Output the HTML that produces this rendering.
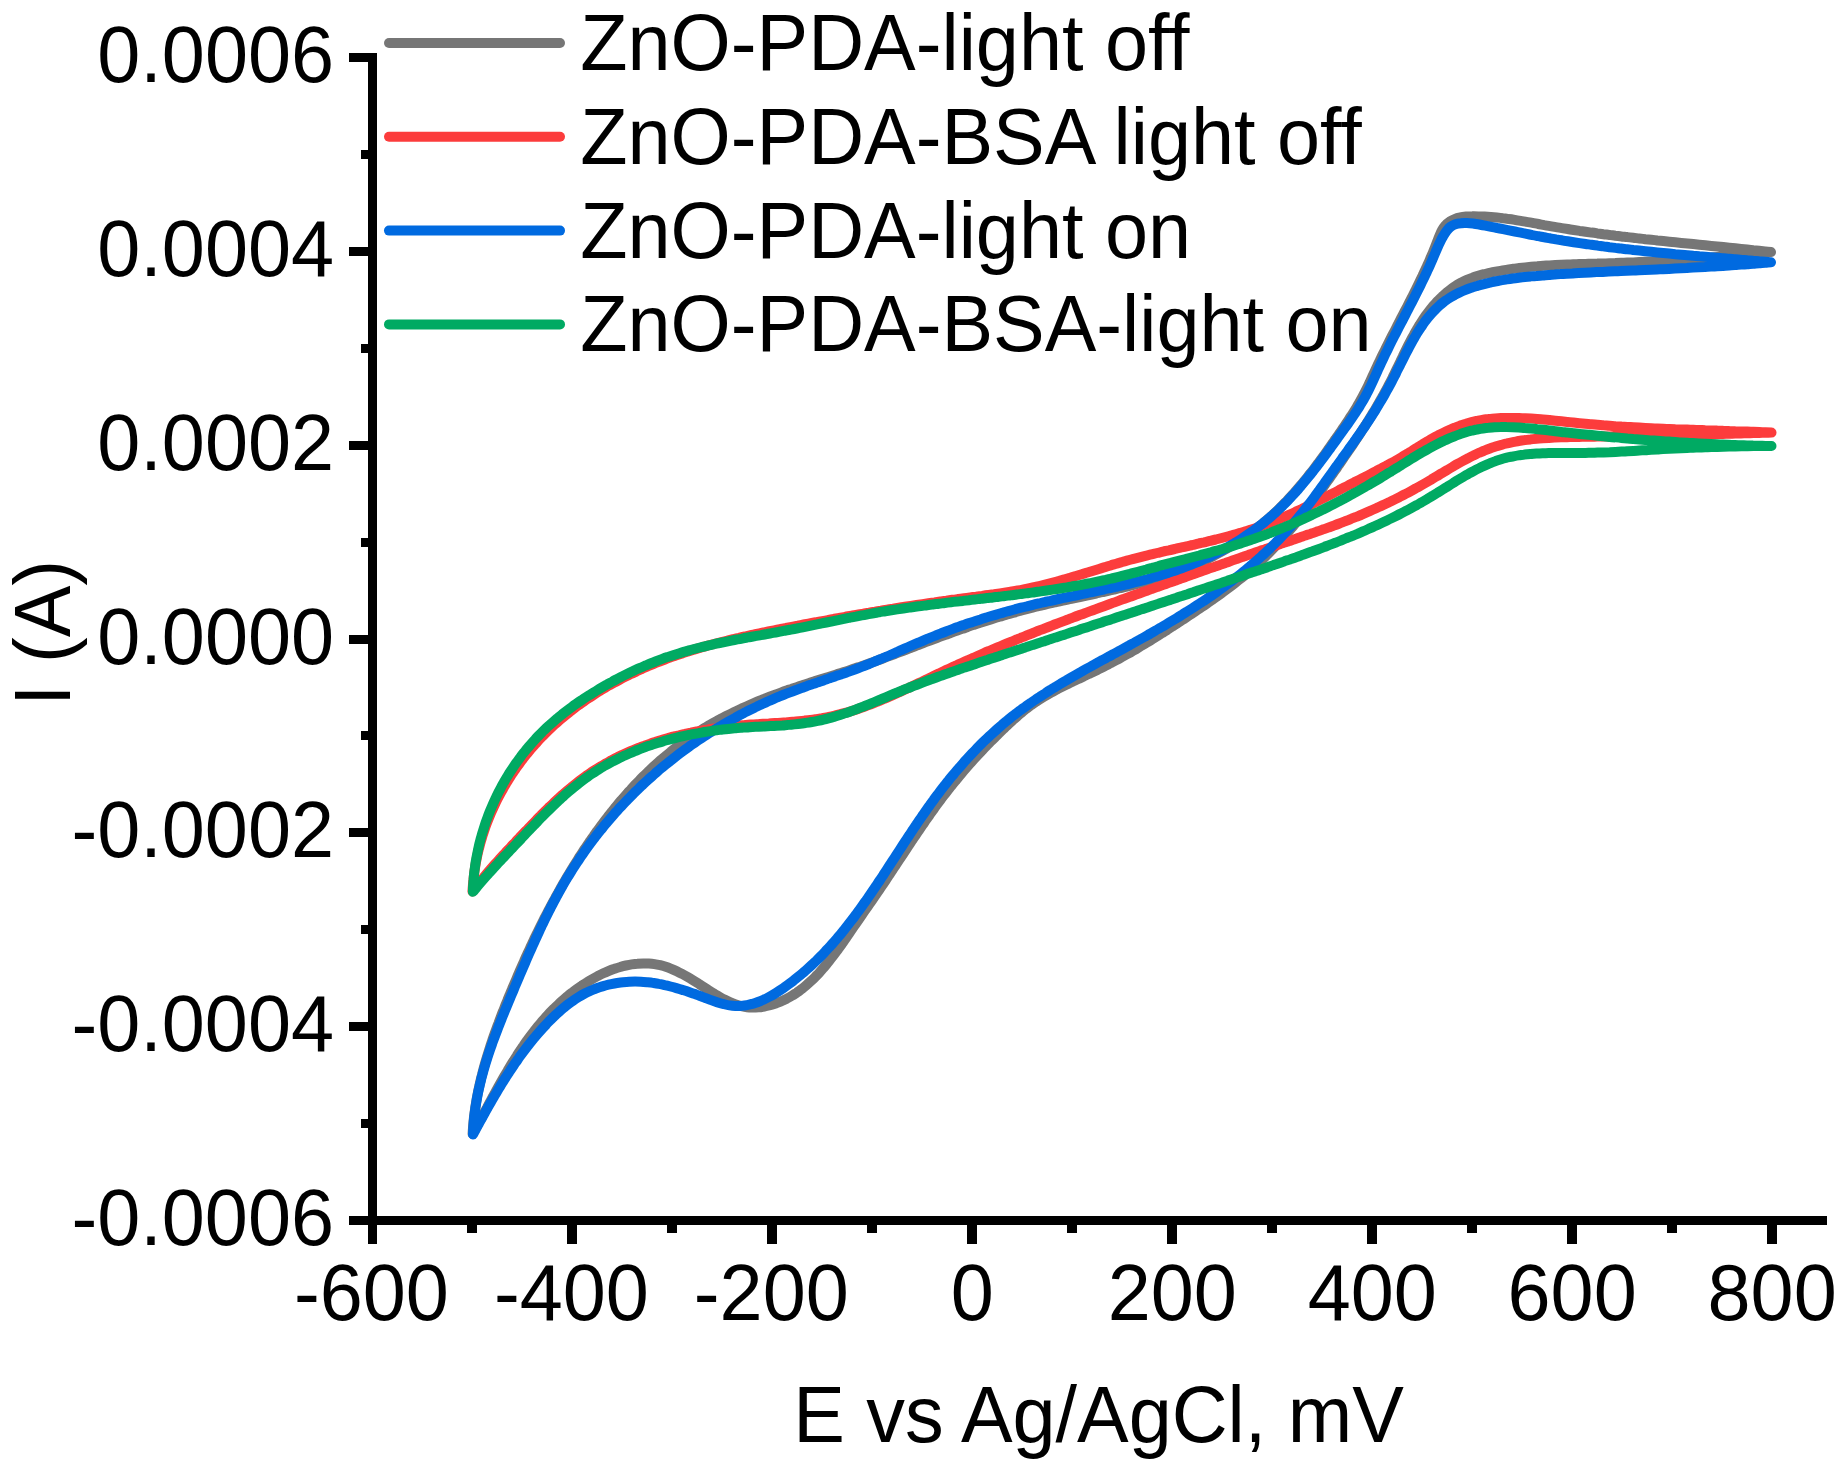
<!DOCTYPE html>
<html lang="en"><head><meta charset="utf-8"><title>Cyclic voltammograms: ZnO-PDA and ZnO-PDA-BSA, light on/off</title>
<style>html,body{margin:0;padding:0;background:#fff}body{width:1846px;height:1468px;overflow:hidden}</style>
</head><body>
<svg width="1846" height="1468" viewBox="0 0 1846 1468" style="display:block">
<rect width="1846" height="1468" fill="#fff"/>
<g fill="#000" shape-rendering="crispEdges">
<rect x="368" y="53" width="9" height="1191"/>
<rect x="349" y="1216" width="1478" height="9"/>
<rect x="349" y="1216" width="20" height="9"/>
<rect x="349" y="1022" width="20" height="9"/>
<rect x="349" y="828" width="20" height="9"/>
<rect x="349" y="635" width="20" height="9"/>
<rect x="349" y="441" width="20" height="9"/>
<rect x="349" y="247" width="20" height="9"/>
<rect x="349" y="53" width="20" height="9"/>
<rect x="361" y="1119" width="8" height="9"/>
<rect x="361" y="925" width="8" height="9"/>
<rect x="361" y="731" width="8" height="9"/>
<rect x="361" y="538" width="8" height="9"/>
<rect x="361" y="344" width="8" height="9"/>
<rect x="361" y="150" width="8" height="9"/>
<rect x="567" y="1224" width="9.5" height="20"/>
<rect x="767" y="1224" width="9.5" height="20"/>
<rect x="967" y="1224" width="9.5" height="20"/>
<rect x="1167" y="1224" width="9.5" height="20"/>
<rect x="1367" y="1224" width="9.5" height="20"/>
<rect x="1567" y="1224" width="9.5" height="20"/>
<rect x="1767" y="1224" width="9.5" height="20"/>
<rect x="467" y="1224" width="9.5" height="9"/>
<rect x="667" y="1224" width="9.5" height="9"/>
<rect x="867" y="1224" width="9.5" height="9"/>
<rect x="1067" y="1224" width="9.5" height="9"/>
<rect x="1267" y="1224" width="9.5" height="9"/>
<rect x="1467" y="1224" width="9.5" height="9"/>
<rect x="1667" y="1224" width="9.5" height="9"/>
</g>
<g fill="none" stroke-width="10.0" stroke-linejoin="round" stroke-linecap="round">
<path stroke="#767676" d="M1771.0 252.1C1769.0 251.9 1767.0 251.7 1765.1 251.4C1763.1 251.2 1761.1 251.0 1759.1 250.8C1757.1 250.6 1755.2 250.4 1753.2 250.2C1751.2 249.9 1749.2 249.7 1747.2 249.5C1745.2 249.3 1743.2 249.1 1741.2 248.9C1739.3 248.7 1737.3 248.5 1735.3 248.3C1733.3 248.1 1731.3 247.9 1729.3 247.7C1727.3 247.5 1725.3 247.3 1723.3 247.1C1721.3 246.9 1719.3 246.7 1717.3 246.5C1715.3 246.3 1713.3 246.1 1711.3 245.9C1709.3 245.7 1707.3 245.5 1705.3 245.3C1703.3 245.1 1701.3 244.9 1699.3 244.7C1697.3 244.5 1695.3 244.3 1693.3 244.1C1691.3 243.9 1689.3 243.7 1687.3 243.5C1685.3 243.3 1683.3 243.1 1681.3 242.9C1679.3 242.7 1677.3 242.5 1675.3 242.3C1673.3 242.1 1671.3 241.9 1669.3 241.7C1667.3 241.5 1665.3 241.3 1663.3 241.1C1661.3 240.9 1659.3 240.7 1657.3 240.5C1655.3 240.2 1653.3 240.0 1651.3 239.8C1649.3 239.6 1647.3 239.4 1645.3 239.2C1643.3 238.9 1641.3 238.7 1639.3 238.5C1637.3 238.3 1635.3 238.0 1633.3 237.8C1631.3 237.6 1629.3 237.4 1627.3 237.1C1625.3 236.9 1623.3 236.6 1621.3 236.4C1619.3 236.2 1617.3 235.9 1615.4 235.7C1613.4 235.4 1611.4 235.2 1609.4 234.9C1607.4 234.7 1605.4 234.4 1603.4 234.2C1601.4 233.9 1599.4 233.6 1597.4 233.4C1595.5 233.1 1593.5 232.8 1591.5 232.6C1589.5 232.3 1587.5 232.0 1585.5 231.7C1583.6 231.4 1581.6 231.1 1579.6 230.9C1577.6 230.6 1575.6 230.3 1573.7 230.0C1571.7 229.7 1569.7 229.4 1567.8 229.0C1565.8 228.7 1563.8 228.4 1561.8 228.1C1559.9 227.8 1557.9 227.4 1555.9 227.1C1554.0 226.8 1552.0 226.4 1550.1 226.1C1548.1 225.8 1546.1 225.4 1544.2 225.1C1542.2 224.7 1540.3 224.4 1538.3 224.0C1536.3 223.6 1534.4 223.3 1532.4 222.9C1530.5 222.6 1528.5 222.2 1526.5 221.9C1524.6 221.6 1522.6 221.2 1520.7 220.9C1518.7 220.6 1516.7 220.3 1514.7 219.9C1512.8 219.6 1510.8 219.3 1508.8 219.1C1506.8 218.8 1504.8 218.5 1502.8 218.3C1500.8 218.0 1498.8 217.8 1496.8 217.6C1494.8 217.4 1492.8 217.2 1490.8 217.0C1488.7 216.9 1486.7 216.7 1484.6 216.6C1482.6 216.5 1480.5 216.4 1478.5 216.4C1476.4 216.3 1474.3 216.2 1472.3 216.3C1470.2 216.3 1468.2 216.4 1466.1 216.6C1464.1 216.8 1462.1 217.0 1460.2 217.4C1458.3 217.8 1456.4 218.3 1454.7 219.0C1452.9 219.7 1451.2 220.5 1449.7 221.6C1448.2 222.6 1446.7 223.9 1445.4 225.3C1444.1 226.8 1443.0 228.5 1442.0 230.3C1441.0 232.1 1440.2 234.1 1439.4 236.0C1438.6 237.9 1437.9 239.9 1437.1 241.8C1436.4 243.7 1435.7 245.6 1434.9 247.5C1434.2 249.3 1433.4 251.2 1432.7 253.0C1431.9 254.8 1431.1 256.6 1430.3 258.4C1429.6 260.3 1428.8 262.1 1428.0 263.9C1427.2 265.7 1426.3 267.5 1425.5 269.3C1424.7 271.1 1423.8 272.9 1423.0 274.7C1422.1 276.5 1421.3 278.3 1420.4 280.1C1419.6 281.9 1418.7 283.7 1417.8 285.5C1416.9 287.3 1416.0 289.1 1415.2 290.8C1414.3 292.6 1413.4 294.4 1412.5 296.2C1411.6 298.0 1410.6 299.8 1409.7 301.6C1408.8 303.4 1407.9 305.1 1407.0 306.9C1406.1 308.7 1405.1 310.5 1404.2 312.3C1403.3 314.1 1402.4 315.9 1401.4 317.6C1400.5 319.4 1399.6 321.2 1398.7 323.0C1397.7 324.8 1396.8 326.6 1395.9 328.4C1395.0 330.2 1394.1 332.0 1393.1 333.7C1392.2 335.5 1391.3 337.3 1390.4 339.1C1389.5 340.9 1388.6 342.7 1387.7 344.5C1386.8 346.3 1385.9 348.1 1385.0 349.9C1384.1 351.7 1383.2 353.5 1382.3 355.3C1381.4 357.1 1380.6 358.9 1379.7 360.8C1378.8 362.6 1378.0 364.4 1377.1 366.2C1376.3 368.0 1375.4 369.8 1374.6 371.7C1373.8 373.5 1372.9 375.3 1372.1 377.1C1371.3 378.9 1370.4 380.8 1369.6 382.6C1368.7 384.4 1367.9 386.2 1367.0 388.0C1366.1 389.8 1365.2 391.6 1364.3 393.3C1363.4 395.1 1362.5 396.9 1361.5 398.6C1360.6 400.4 1359.6 402.1 1358.6 403.8C1357.6 405.6 1356.5 407.3 1355.5 409.0C1354.5 410.7 1353.4 412.4 1352.3 414.1C1351.2 415.8 1350.1 417.4 1349.0 419.1C1347.9 420.8 1346.8 422.5 1345.7 424.1C1344.6 425.8 1343.5 427.5 1342.3 429.1C1341.2 430.8 1340.1 432.4 1338.9 434.1C1337.8 435.8 1336.6 437.4 1335.5 439.1C1334.3 440.7 1333.2 442.4 1332.0 444.0C1330.9 445.7 1329.7 447.3 1328.6 448.9C1327.4 450.6 1326.2 452.2 1325.1 453.9C1323.9 455.5 1322.7 457.1 1321.5 458.7C1320.3 460.3 1319.1 462.0 1317.9 463.6C1316.7 465.2 1315.5 466.8 1314.3 468.4C1313.1 470.0 1311.9 471.5 1310.6 473.1C1309.4 474.7 1308.1 476.3 1306.9 477.8C1305.6 479.4 1304.4 480.9 1303.1 482.5C1301.8 484.0 1300.5 485.6 1299.2 487.1C1297.9 488.6 1296.6 490.1 1295.3 491.6C1294.0 493.1 1292.6 494.6 1291.3 496.1C1289.9 497.5 1288.6 499.0 1287.2 500.5C1285.8 501.9 1284.5 503.3 1283.0 504.8C1281.6 506.2 1280.2 507.6 1278.8 509.0C1277.4 510.4 1275.9 511.8 1274.5 513.1C1273.0 514.5 1271.5 515.8 1270.0 517.2C1268.5 518.5 1267.0 519.8 1265.5 521.1C1264.0 522.4 1262.4 523.7 1260.9 525.0C1259.3 526.3 1257.7 527.5 1256.1 528.7C1254.6 530.0 1253.0 531.2 1251.3 532.4C1249.7 533.6 1248.1 534.8 1246.5 535.9C1244.8 537.1 1243.2 538.2 1241.5 539.4C1239.8 540.5 1238.1 541.6 1236.4 542.7C1234.8 543.8 1233.0 544.9 1231.3 545.9C1229.6 547.0 1227.9 548.0 1226.2 549.0C1224.4 550.0 1222.7 551.0 1220.9 552.0C1219.2 553.0 1217.4 554.0 1215.6 554.9C1213.8 555.8 1212.1 556.8 1210.3 557.7C1208.5 558.6 1206.7 559.4 1204.9 560.3C1203.1 561.1 1201.3 562.0 1199.4 562.8C1197.6 563.6 1195.8 564.4 1193.9 565.2C1192.1 566.0 1190.3 566.7 1188.4 567.5C1186.6 568.2 1184.7 568.9 1182.9 569.7C1181.0 570.4 1179.1 571.1 1177.3 571.7C1175.4 572.4 1173.5 573.1 1171.6 573.7C1169.7 574.4 1167.8 575.0 1166.0 575.6C1164.1 576.2 1162.2 576.8 1160.3 577.4C1158.4 578.0 1156.4 578.6 1154.5 579.1C1152.6 579.7 1150.7 580.3 1148.8 580.8C1146.9 581.4 1144.9 581.9 1143.0 582.4C1141.1 582.9 1139.1 583.4 1137.2 583.9C1135.3 584.4 1133.3 584.9 1131.4 585.4C1129.4 585.9 1127.5 586.4 1125.6 586.9C1123.6 587.3 1121.7 587.8 1119.7 588.2C1117.7 588.7 1115.8 589.1 1113.8 589.6C1111.9 590.0 1109.9 590.5 1108.0 590.9C1106.0 591.4 1104.0 591.8 1102.1 592.2C1100.1 592.6 1098.1 593.1 1096.2 593.5C1094.2 593.9 1092.2 594.3 1090.3 594.8C1088.3 595.2 1086.3 595.6 1084.4 596.0C1082.4 596.4 1080.4 596.8 1078.5 597.3C1076.5 597.7 1074.5 598.1 1072.6 598.5C1070.6 598.9 1068.6 599.4 1066.6 599.8C1064.7 600.2 1062.7 600.6 1060.7 601.1C1058.8 601.5 1056.8 601.9 1054.9 602.4C1052.9 602.8 1050.9 603.3 1049.0 603.7C1047.0 604.2 1045.1 604.6 1043.1 605.1C1041.1 605.5 1039.2 606.0 1037.2 606.5C1035.3 607.0 1033.3 607.4 1031.4 607.9C1029.4 608.4 1027.5 608.9 1025.6 609.4C1023.6 609.9 1021.7 610.4 1019.7 611.0C1017.8 611.5 1015.9 612.0 1013.9 612.6C1012.0 613.1 1010.1 613.7 1008.2 614.2C1006.2 614.8 1004.3 615.3 1002.4 615.9C1000.5 616.5 998.5 617.0 996.6 617.6C994.7 618.2 992.8 618.8 990.9 619.4C989.0 620.0 987.1 620.6 985.2 621.2C983.2 621.8 981.3 622.4 979.4 623.0C977.5 623.7 975.6 624.3 973.7 624.9C971.8 625.6 969.9 626.2 968.0 626.8C966.1 627.5 964.2 628.1 962.4 628.8C960.5 629.4 958.6 630.1 956.7 630.8C954.8 631.4 952.9 632.1 951.0 632.8C949.1 633.5 947.2 634.1 945.4 634.8C943.5 635.5 941.6 636.2 939.7 636.9C937.8 637.6 936.0 638.3 934.1 639.0C932.2 639.7 930.3 640.4 928.5 641.1C926.6 641.8 924.7 642.5 922.8 643.2C921.0 643.9 919.1 644.6 917.2 645.4C915.3 646.1 913.5 646.8 911.6 647.5C909.7 648.2 907.9 649.0 906.0 649.7C904.1 650.4 902.2 651.1 900.4 651.8C898.5 652.5 896.6 653.3 894.8 654.0C892.9 654.7 891.0 655.4 889.1 656.1C887.3 656.8 885.4 657.5 883.5 658.2C881.6 658.9 879.7 659.6 877.9 660.3C876.0 661.0 874.1 661.7 872.2 662.4C870.3 663.1 868.4 663.7 866.6 664.4C864.7 665.1 862.8 665.7 860.9 666.4C859.0 667.0 857.1 667.7 855.2 668.3C853.3 669.0 851.4 669.6 849.5 670.2C847.6 670.8 845.7 671.5 843.8 672.1C841.9 672.7 839.9 673.3 838.0 673.9C836.1 674.5 834.2 675.1 832.3 675.7C830.4 676.3 828.5 676.9 826.6 677.5C824.6 678.1 822.7 678.7 820.8 679.3C818.9 679.9 817.0 680.5 815.1 681.1C813.2 681.7 811.2 682.4 809.3 683.0C807.4 683.6 805.5 684.2 803.6 684.8C801.7 685.4 799.8 686.1 797.9 686.7C796.0 687.3 794.1 688.0 792.2 688.6C790.3 689.3 788.4 689.9 786.5 690.6C784.6 691.2 782.7 691.9 780.8 692.6C778.9 693.3 777.0 694.0 775.2 694.7C773.3 695.4 771.4 696.1 769.5 696.8C767.6 697.5 765.8 698.2 763.9 699.0C762.0 699.7 760.2 700.5 758.3 701.2C756.5 702.0 754.6 702.8 752.8 703.6C750.9 704.4 749.1 705.2 747.3 706.0C745.4 706.8 743.6 707.6 741.8 708.4C740.0 709.3 738.2 710.1 736.4 711.0C734.6 711.8 732.8 712.7 731.0 713.6C729.2 714.5 727.4 715.4 725.6 716.3C723.8 717.2 722.1 718.1 720.3 719.0C718.6 720.0 716.8 720.9 715.1 721.9C713.3 722.9 711.6 723.9 709.9 724.9C708.2 725.9 706.4 726.9 704.7 727.9C703.0 728.9 701.3 730.0 699.7 731.0C698.0 732.1 696.3 733.2 694.7 734.3C693.0 735.3 691.3 736.5 689.7 737.6C688.1 738.7 686.4 739.8 684.8 741.0C683.2 742.2 681.6 743.3 680.0 744.5C678.4 745.7 676.8 746.9 675.3 748.1C673.7 749.4 672.1 750.6 670.6 751.9C669.0 753.1 667.5 754.4 666.0 755.7C664.4 756.9 662.9 758.2 661.4 759.5C659.9 760.8 658.4 762.2 656.9 763.5C655.4 764.8 654.0 766.2 652.5 767.6C651.0 768.9 649.6 770.3 648.1 771.7C646.7 773.1 645.3 774.5 643.8 775.9C642.4 777.3 641.0 778.7 639.6 780.2C638.2 781.6 636.8 783.0 635.4 784.5C634.0 786.0 632.7 787.4 631.3 788.9C630.0 790.4 628.6 791.9 627.3 793.4C625.9 794.9 624.6 796.4 623.3 797.9C622.0 799.5 620.6 801.0 619.3 802.5C618.0 804.1 616.8 805.6 615.5 807.2C614.2 808.8 612.9 810.3 611.7 811.9C610.4 813.5 609.2 815.1 607.9 816.7C606.7 818.3 605.4 819.9 604.2 821.5C603.0 823.1 601.8 824.7 600.6 826.3C599.4 828.0 598.2 829.6 597.0 831.2C595.8 832.9 594.6 834.5 593.5 836.2C592.3 837.8 591.1 839.5 590.0 841.2C588.9 842.8 587.7 844.5 586.6 846.2C585.5 847.9 584.3 849.5 583.2 851.2C582.1 852.9 581.0 854.6 579.9 856.3C578.8 858.0 577.8 859.7 576.7 861.4C575.6 863.1 574.5 864.8 573.5 866.5C572.4 868.2 571.4 870.0 570.3 871.7C569.3 873.4 568.3 875.1 567.2 876.9C566.2 878.6 565.2 880.3 564.2 882.0C563.2 883.8 562.2 885.5 561.2 887.2C560.2 889.0 559.2 890.7 558.3 892.5C557.3 894.2 556.3 896.0 555.4 897.7C554.4 899.4 553.5 901.2 552.5 903.0C551.6 904.7 550.7 906.5 549.7 908.2C548.8 910.0 547.9 911.7 547.0 913.5C546.1 915.3 545.1 917.0 544.2 918.8C543.3 920.6 542.5 922.4 541.6 924.1C540.7 925.9 539.8 927.7 538.9 929.5C538.0 931.3 537.2 933.0 536.3 934.8C535.4 936.6 534.6 938.4 533.7 940.2C532.9 942.0 532.0 943.8 531.2 945.6C530.4 947.4 529.5 949.2 528.7 951.0C527.9 952.8 527.0 954.6 526.2 956.4C525.4 958.3 524.6 960.1 523.8 961.9C522.9 963.7 522.1 965.5 521.3 967.4C520.5 969.2 519.7 971.0 518.9 972.9C518.1 974.7 517.3 976.5 516.6 978.4C515.8 980.2 515.0 982.1 514.2 983.9C513.4 985.7 512.6 987.6 511.9 989.4C511.1 991.3 510.3 993.2 509.6 995.0C508.8 996.9 508.0 998.7 507.3 1000.6C506.5 1002.5 505.8 1004.3 505.0 1006.2C504.3 1008.1 503.5 1010.0 502.8 1011.8C502.0 1013.7 501.3 1015.6 500.6 1017.5C499.9 1019.4 499.2 1021.3 498.5 1023.2C497.7 1025.0 497.0 1026.9 496.4 1028.8C495.7 1030.7 495.0 1032.6 494.3 1034.5C493.6 1036.4 493.0 1038.3 492.3 1040.3C491.7 1042.2 491.0 1044.1 490.4 1046.0C489.8 1047.9 489.2 1049.8 488.6 1051.7C488.0 1053.7 487.4 1055.6 486.8 1057.5C486.2 1059.4 485.6 1061.4 485.1 1063.3C484.5 1065.2 484.0 1067.2 483.5 1069.1C483.0 1071.1 482.4 1073.0 482.0 1074.9C481.5 1076.9 481.0 1078.8 480.5 1080.8C480.1 1082.7 479.6 1084.7 479.2 1086.6C478.8 1088.6 478.3 1090.5 477.9 1092.5C477.6 1094.5 477.2 1096.4 476.8 1098.4C476.5 1100.3 476.1 1102.3 475.8 1104.3C475.5 1106.3 475.2 1108.2 474.9 1110.2C474.6 1112.2 474.4 1114.1 474.1 1116.1C473.9 1118.1 473.7 1120.1 473.5 1122.1C473.3 1124.1 473.1 1126.0 473.0 1128.0C472.8 1130.0 472.7 1132.0 472.6 1134.0C473.6 1132.3 474.5 1130.5 475.5 1128.8C476.5 1127.0 477.4 1125.3 478.4 1123.5C479.3 1121.7 480.3 1120.0 481.3 1118.2C482.2 1116.5 483.2 1114.7 484.1 1112.9C485.1 1111.2 486.0 1109.4 487.0 1107.7C487.9 1105.9 488.9 1104.1 489.8 1102.4C490.8 1100.6 491.7 1098.8 492.7 1097.1C493.7 1095.3 494.6 1093.6 495.6 1091.8C496.6 1090.1 497.5 1088.3 498.5 1086.5C499.5 1084.8 500.5 1083.1 501.5 1081.3C502.4 1079.6 503.4 1077.8 504.4 1076.1C505.4 1074.4 506.4 1072.6 507.5 1070.9C508.5 1069.2 509.5 1067.5 510.5 1065.8C511.6 1064.1 512.6 1062.4 513.7 1060.7C514.7 1059.0 515.8 1057.3 516.9 1055.6C517.9 1053.9 519.0 1052.3 520.1 1050.6C521.2 1049.0 522.3 1047.3 523.5 1045.7C524.6 1044.0 525.7 1042.4 526.9 1040.8C528.0 1039.2 529.2 1037.6 530.4 1036.0C531.6 1034.4 532.8 1032.8 534.0 1031.3C535.2 1029.7 536.5 1028.1 537.7 1026.6C539.0 1025.1 540.3 1023.5 541.5 1022.0C542.8 1020.5 544.2 1019.0 545.5 1017.5C546.8 1016.1 548.2 1014.6 549.5 1013.1C550.9 1011.7 552.3 1010.3 553.7 1008.9C555.1 1007.4 556.6 1006.0 558.1 1004.7C559.5 1003.3 561.0 1001.9 562.5 1000.6C564.0 999.2 565.6 997.9 567.1 996.6C568.7 995.3 570.3 994.0 571.9 992.8C573.5 991.5 575.1 990.3 576.8 989.1C578.5 987.9 580.2 986.7 581.9 985.5C583.6 984.4 585.3 983.3 587.1 982.2C588.8 981.1 590.6 980.0 592.4 979.0C594.2 978.0 596.0 977.0 597.8 976.0C599.6 975.1 601.4 974.2 603.3 973.3C605.1 972.5 607.0 971.7 608.9 970.9C610.7 970.1 612.6 969.4 614.5 968.8C616.4 968.1 618.3 967.5 620.2 967.0C622.1 966.4 624.0 965.9 625.9 965.5C627.8 965.1 629.7 964.7 631.7 964.4C633.6 964.1 635.5 963.8 637.4 963.7C639.3 963.5 641.2 963.4 643.2 963.4C645.1 963.4 647.0 963.4 648.9 963.5C650.8 963.6 652.7 963.8 654.6 964.1C656.5 964.4 658.4 964.8 660.2 965.2C662.1 965.7 664.0 966.2 665.8 966.8C667.7 967.4 669.5 968.1 671.3 968.8C673.2 969.6 675.0 970.4 676.8 971.3C678.6 972.2 680.5 973.1 682.3 974.0C684.1 975.0 685.9 976.0 687.7 977.1C689.4 978.1 691.2 979.2 693.0 980.3C694.8 981.4 696.6 982.5 698.4 983.6C700.1 984.7 701.9 985.9 703.7 987.0C705.5 988.1 707.2 989.3 709.0 990.4C710.8 991.5 712.6 992.6 714.3 993.7C716.1 994.8 717.9 995.8 719.7 996.9C721.4 997.9 723.2 998.9 725.0 999.8C726.8 1000.7 728.6 1001.6 730.4 1002.4C732.2 1003.2 734.0 1003.9 735.8 1004.5C737.7 1005.2 739.5 1005.7 741.4 1006.2C743.2 1006.6 745.1 1007.0 747.0 1007.2C748.9 1007.4 750.8 1007.5 752.7 1007.6C754.7 1007.6 756.6 1007.5 758.5 1007.3C760.5 1007.2 762.4 1006.9 764.3 1006.5C766.2 1006.2 768.2 1005.7 770.1 1005.2C772.0 1004.7 773.9 1004.1 775.7 1003.5C777.6 1002.8 779.5 1002.0 781.3 1001.3C783.1 1000.5 784.9 999.6 786.7 998.7C788.4 997.8 790.2 996.8 791.9 995.8C793.6 994.8 795.2 993.7 796.9 992.6C798.5 991.4 800.1 990.3 801.7 989.1C803.2 987.9 804.8 986.6 806.3 985.3C807.8 984.0 809.3 982.7 810.7 981.3C812.2 980.0 813.6 978.6 815.0 977.2C816.4 975.7 817.8 974.3 819.2 972.8C820.6 971.3 821.9 969.8 823.2 968.2C824.5 966.7 825.8 965.1 827.1 963.5C828.4 962.0 829.7 960.4 830.9 958.7C832.2 957.1 833.4 955.5 834.7 953.8C835.9 952.2 837.1 950.5 838.3 948.9C839.5 947.2 840.7 945.5 841.9 943.9C843.1 942.2 844.2 940.5 845.4 938.8C846.6 937.1 847.7 935.4 848.9 933.8C850.0 932.1 851.2 930.4 852.3 928.7C853.5 927.1 854.6 925.4 855.8 923.8C856.9 922.1 858.0 920.5 859.2 918.8C860.3 917.2 861.5 915.5 862.6 913.9C863.7 912.3 864.8 910.6 866.0 909.0C867.1 907.4 868.2 905.8 869.3 904.2C870.5 902.5 871.6 900.9 872.7 899.3C873.8 897.7 874.9 896.1 876.1 894.4C877.2 892.8 878.3 891.2 879.4 889.6C880.5 887.9 881.6 886.3 882.7 884.7C883.8 883.0 884.9 881.4 886.0 879.8C887.1 878.1 888.2 876.5 889.3 874.8C890.4 873.2 891.5 871.5 892.6 869.8C893.7 868.2 894.8 866.5 895.9 864.9C897.0 863.2 898.1 861.5 899.2 859.8C900.4 858.2 901.5 856.5 902.6 854.8C903.7 853.2 904.8 851.5 905.9 849.8C907.0 848.1 908.1 846.5 909.2 844.8C910.3 843.1 911.4 841.5 912.5 839.8C913.7 838.1 914.8 836.4 915.9 834.8C917.0 833.1 918.2 831.4 919.3 829.8C920.4 828.1 921.5 826.4 922.7 824.8C923.8 823.1 925.0 821.5 926.1 819.8C927.3 818.2 928.4 816.5 929.6 814.9C930.8 813.2 931.9 811.6 933.1 810.0C934.3 808.3 935.4 806.7 936.6 805.1C937.8 803.5 939.0 801.9 940.2 800.3C941.4 798.6 942.6 797.0 943.8 795.5C945.1 793.9 946.3 792.3 947.5 790.7C948.7 789.1 950.0 787.6 951.2 786.0C952.5 784.4 953.7 782.9 955.0 781.3C956.3 779.8 957.5 778.2 958.8 776.7C960.1 775.2 961.4 773.7 962.7 772.1C964.0 770.6 965.3 769.1 966.6 767.6C967.9 766.1 969.2 764.6 970.5 763.1C971.9 761.6 973.2 760.1 974.5 758.7C975.9 757.2 977.2 755.7 978.6 754.2C980.0 752.8 981.3 751.3 982.7 749.9C984.1 748.4 985.4 747.0 986.8 745.5C988.2 744.1 989.6 742.7 991.0 741.2C992.4 739.8 993.8 738.4 995.3 737.0C996.7 735.6 998.1 734.2 999.5 732.8C1001.0 731.4 1002.4 730.0 1003.9 728.6C1005.3 727.2 1006.8 725.8 1008.2 724.4C1009.7 723.1 1011.2 721.7 1012.7 720.3C1014.2 719.0 1015.7 717.7 1017.2 716.4C1018.7 715.0 1020.2 713.7 1021.8 712.5C1023.3 711.2 1024.9 709.9 1026.4 708.7C1028.0 707.5 1029.6 706.3 1031.2 705.1C1032.8 704.0 1034.5 702.8 1036.1 701.7C1037.8 700.6 1039.5 699.5 1041.1 698.5C1042.8 697.4 1044.5 696.4 1046.3 695.4C1048.0 694.4 1049.7 693.4 1051.5 692.4C1053.2 691.4 1055.0 690.5 1056.7 689.6C1058.5 688.6 1060.3 687.7 1062.1 686.8C1063.9 685.9 1065.7 685.0 1067.5 684.2C1069.3 683.3 1071.1 682.4 1072.9 681.5C1074.7 680.7 1076.5 679.8 1078.3 679.0C1080.2 678.1 1082.0 677.2 1083.8 676.4C1085.6 675.5 1087.4 674.7 1089.2 673.8C1091.1 673.0 1092.9 672.1 1094.7 671.2C1096.5 670.3 1098.3 669.5 1100.1 668.6C1101.9 667.7 1103.7 666.8 1105.4 665.9C1107.2 665.0 1109.0 664.0 1110.8 663.1C1112.5 662.2 1114.3 661.3 1116.0 660.3C1117.8 659.4 1119.6 658.4 1121.3 657.4C1123.0 656.5 1124.8 655.5 1126.5 654.5C1128.3 653.5 1130.0 652.6 1131.7 651.6C1133.4 650.6 1135.2 649.6 1136.9 648.6C1138.6 647.6 1140.3 646.5 1142.0 645.5C1143.7 644.5 1145.4 643.5 1147.1 642.4C1148.8 641.4 1150.5 640.4 1152.2 639.3C1153.9 638.3 1155.6 637.2 1157.3 636.1C1159.0 635.1 1160.7 634.0 1162.4 633.0C1164.1 631.9 1165.7 630.8 1167.4 629.7C1169.1 628.7 1170.8 627.6 1172.4 626.5C1174.1 625.4 1175.8 624.3 1177.5 623.2C1179.1 622.1 1180.8 621.0 1182.5 619.9C1184.2 618.8 1185.8 617.7 1187.5 616.6C1189.2 615.5 1190.8 614.4 1192.5 613.3C1194.2 612.2 1195.8 611.0 1197.5 609.9C1199.2 608.8 1200.8 607.7 1202.5 606.5C1204.2 605.4 1205.8 604.3 1207.5 603.1C1209.1 602.0 1210.8 600.9 1212.4 599.7C1214.1 598.6 1215.7 597.4 1217.4 596.2C1219.0 595.1 1220.6 593.9 1222.2 592.7C1223.9 591.5 1225.5 590.3 1227.1 589.1C1228.7 587.9 1230.3 586.7 1231.9 585.5C1233.5 584.3 1235.1 583.1 1236.6 581.8C1238.2 580.6 1239.8 579.3 1241.3 578.1C1242.9 576.8 1244.4 575.5 1245.9 574.3C1247.5 573.0 1249.0 571.7 1250.5 570.4C1252.0 569.1 1253.5 567.7 1255.0 566.4C1256.5 565.1 1257.9 563.7 1259.4 562.3C1260.8 561.0 1262.3 559.6 1263.7 558.2C1265.1 556.8 1266.5 555.4 1267.9 554.0C1269.4 552.6 1270.7 551.2 1272.1 549.7C1273.5 548.3 1274.9 546.8 1276.2 545.4C1277.6 543.9 1279.0 542.5 1280.3 541.0C1281.6 539.5 1283.0 538.0 1284.3 536.5C1285.6 535.0 1286.9 533.5 1288.2 532.0C1289.5 530.5 1290.8 529.0 1292.1 527.4C1293.4 525.9 1294.7 524.4 1295.9 522.8C1297.2 521.3 1298.5 519.7 1299.7 518.1C1301.0 516.6 1302.2 515.0 1303.5 513.4C1304.7 511.9 1305.9 510.3 1307.2 508.7C1308.4 507.1 1309.6 505.5 1310.8 503.9C1312.0 502.3 1313.2 500.7 1314.4 499.1C1315.6 497.5 1316.8 495.9 1318.0 494.3C1319.2 492.6 1320.4 491.0 1321.5 489.4C1322.7 487.8 1323.9 486.1 1325.1 484.5C1326.2 482.9 1327.4 481.2 1328.6 479.6C1329.7 478.0 1330.9 476.3 1332.0 474.7C1333.2 473.0 1334.3 471.4 1335.5 469.8C1336.6 468.1 1337.8 466.5 1338.9 464.8C1340.0 463.2 1341.2 461.5 1342.3 459.9C1343.5 458.2 1344.6 456.6 1345.7 454.9C1346.8 453.3 1348.0 451.6 1349.1 450.0C1350.2 448.3 1351.3 446.7 1352.5 445.0C1353.6 443.4 1354.7 441.7 1355.8 440.0C1356.9 438.4 1358.0 436.7 1359.1 435.0C1360.2 433.4 1361.3 431.7 1362.3 430.0C1363.4 428.4 1364.5 426.7 1365.6 425.0C1366.6 423.3 1367.7 421.6 1368.8 419.9C1369.8 418.2 1370.9 416.5 1371.9 414.8C1372.9 413.1 1374.0 411.4 1375.0 409.7C1376.0 408.0 1377.0 406.3 1378.0 404.6C1379.0 402.8 1380.0 401.1 1381.0 399.4C1382.0 397.6 1382.9 395.9 1383.9 394.1C1384.9 392.4 1385.8 390.6 1386.8 388.9C1387.7 387.1 1388.6 385.3 1389.6 383.5C1390.5 381.8 1391.4 380.0 1392.3 378.2C1393.2 376.4 1394.0 374.6 1394.9 372.8C1395.8 371.0 1396.7 369.1 1397.6 367.3C1398.4 365.5 1399.3 363.7 1400.2 361.9C1401.0 360.1 1401.9 358.2 1402.8 356.4C1403.6 354.6 1404.5 352.8 1405.4 351.0C1406.3 349.2 1407.2 347.4 1408.1 345.6C1409.0 343.8 1409.9 342.0 1410.8 340.3C1411.8 338.5 1412.7 336.7 1413.7 335.0C1414.6 333.2 1415.6 331.5 1416.6 329.8C1417.6 328.0 1418.7 326.3 1419.7 324.6C1420.8 322.9 1421.8 321.3 1422.9 319.6C1424.0 318.0 1425.2 316.3 1426.3 314.7C1427.5 313.1 1428.7 311.5 1429.9 309.9C1431.2 308.4 1432.4 306.8 1433.7 305.3C1435.1 303.8 1436.4 302.3 1437.8 300.9C1439.2 299.4 1440.6 298.0 1442.1 296.6C1443.5 295.2 1445.1 293.9 1446.6 292.6C1448.1 291.3 1449.7 290.0 1451.4 288.8C1453.0 287.6 1454.6 286.5 1456.3 285.4C1458.0 284.4 1459.7 283.4 1461.5 282.4C1463.3 281.5 1465.1 280.7 1466.9 279.9C1468.7 279.1 1470.5 278.3 1472.4 277.7C1474.3 277.0 1476.2 276.4 1478.1 275.8C1480.0 275.2 1481.9 274.7 1483.8 274.2C1485.8 273.7 1487.7 273.3 1489.7 272.8C1491.7 272.4 1493.6 272.0 1495.6 271.6C1497.6 271.3 1499.6 270.9 1501.5 270.6C1503.5 270.3 1505.5 269.9 1507.5 269.6C1509.5 269.3 1511.4 269.1 1513.4 268.8C1515.4 268.5 1517.4 268.3 1519.4 268.0C1521.4 267.8 1523.4 267.6 1525.3 267.4C1527.3 267.2 1529.3 267.0 1531.3 266.8C1533.3 266.6 1535.3 266.4 1537.3 266.3C1539.3 266.1 1541.3 265.9 1543.3 265.8C1545.3 265.7 1547.3 265.5 1549.3 265.4C1551.3 265.3 1553.3 265.2 1555.3 265.1C1557.3 265.0 1559.3 264.9 1561.3 264.8C1563.3 264.7 1565.3 264.6 1567.3 264.5C1569.3 264.4 1571.3 264.4 1573.3 264.3C1575.3 264.2 1577.3 264.2 1579.3 264.1C1581.3 264.0 1583.3 264.0 1585.3 263.9C1587.3 263.9 1589.3 263.8 1591.3 263.8C1593.3 263.7 1595.3 263.6 1597.3 263.6C1599.3 263.5 1601.3 263.5 1603.3 263.4C1605.3 263.4 1607.3 263.3 1609.3 263.2C1611.3 263.2 1613.3 263.1 1615.3 263.1C1617.3 263.0 1619.3 262.9 1621.3 262.8C1623.3 262.8 1625.3 262.7 1627.3 262.6C1629.3 262.5 1631.3 262.4 1633.3 262.4C1635.3 262.3 1637.3 262.2 1639.3 262.1C1641.3 262.0 1643.3 261.9 1645.3 261.8C1647.3 261.7 1649.3 261.6 1651.3 261.5C1653.3 261.4 1655.3 261.3 1657.3 261.2C1659.3 261.1 1661.3 260.9 1663.3 260.8C1665.3 260.7 1667.3 260.6 1669.3 260.5C1671.3 260.3 1673.3 260.2 1675.3 260.1C1677.3 260.0 1679.3 259.8 1681.3 259.7C1683.3 259.6 1685.3 259.4 1687.3 259.3C1689.2 259.1 1691.2 259.0 1693.2 258.9C1695.2 258.7 1697.2 258.6 1699.2 258.4C1701.2 258.3 1703.2 258.1 1705.2 258.0C1707.2 257.8 1709.2 257.7 1711.2 257.5C1713.2 257.3 1715.2 257.2 1717.2 257.0C1719.2 256.9 1721.2 256.7 1723.2 256.5C1725.1 256.3 1727.1 256.2 1729.1 256.0C1731.1 255.8 1733.1 255.7 1735.1 255.5C1737.1 255.3 1739.1 255.1 1741.1 254.9C1743.1 254.8 1745.1 254.6 1747.1 254.4C1749.1 254.2 1751.1 254.0 1753.1 253.8C1755.0 253.7 1757.0 253.5 1759.0 253.3C1761.0 253.1 1763.0 252.9 1765.0 252.7C1767.0 252.5 1769.0 252.3 1771.0 252.1"/>
<path stroke="#fc3c3c" d="M1771.5 432.6C1769.5 432.5 1767.5 432.4 1765.4 432.3C1763.4 432.2 1761.4 432.2 1759.4 432.1C1757.4 432.0 1755.4 431.9 1753.4 431.8C1751.3 431.8 1749.3 431.7 1747.3 431.6C1745.3 431.5 1743.3 431.5 1741.3 431.4C1739.3 431.3 1737.3 431.2 1735.3 431.2C1733.3 431.1 1731.3 431.0 1729.3 431.0C1727.3 430.9 1725.3 430.8 1723.2 430.8C1721.2 430.7 1719.2 430.6 1717.2 430.6C1715.2 430.5 1713.2 430.4 1711.2 430.4C1709.2 430.3 1707.2 430.2 1705.2 430.2C1703.2 430.1 1701.2 430.1 1699.2 430.0C1697.2 429.9 1695.2 429.9 1693.2 429.8C1691.2 429.7 1689.2 429.7 1687.2 429.6C1685.2 429.5 1683.3 429.5 1681.3 429.4C1679.3 429.3 1677.3 429.2 1675.3 429.2C1673.3 429.1 1671.3 429.0 1669.3 428.9C1667.3 428.9 1665.3 428.8 1663.3 428.7C1661.3 428.6 1659.3 428.5 1657.3 428.4C1655.3 428.4 1653.3 428.3 1651.3 428.2C1649.3 428.1 1647.3 428.0 1645.3 427.9C1643.3 427.8 1641.3 427.7 1639.3 427.6C1637.4 427.5 1635.4 427.4 1633.4 427.3C1631.4 427.2 1629.4 427.0 1627.4 426.9C1625.4 426.8 1623.4 426.7 1621.4 426.6C1619.4 426.4 1617.4 426.3 1615.4 426.2C1613.4 426.0 1611.4 425.9 1609.4 425.7C1607.4 425.6 1605.4 425.4 1603.4 425.3C1601.4 425.1 1599.4 425.0 1597.4 424.8C1595.4 424.7 1593.4 424.5 1591.4 424.3C1589.4 424.1 1587.4 424.0 1585.4 423.8C1583.4 423.6 1581.4 423.4 1579.4 423.2C1577.4 423.0 1575.4 422.8 1573.4 422.6C1571.4 422.4 1569.3 422.2 1567.3 421.9C1565.3 421.7 1563.3 421.5 1561.3 421.3C1559.3 421.1 1557.3 420.9 1555.3 420.7C1553.3 420.5 1551.3 420.3 1549.3 420.1C1547.3 419.9 1545.3 419.7 1543.2 419.5C1541.2 419.4 1539.2 419.2 1537.2 419.0C1535.2 418.9 1533.2 418.7 1531.2 418.6C1529.2 418.5 1527.2 418.4 1525.2 418.3C1523.2 418.2 1521.1 418.1 1519.1 418.0C1517.1 418.0 1515.1 417.9 1513.1 417.9C1511.1 417.9 1509.1 417.9 1507.1 417.9C1505.1 417.9 1503.1 418.0 1501.1 418.1C1499.1 418.2 1497.1 418.3 1495.1 418.4C1493.1 418.6 1491.1 418.7 1489.1 418.9C1487.1 419.2 1485.2 419.4 1483.2 419.7C1481.2 420.0 1479.3 420.4 1477.3 420.8C1475.4 421.2 1473.4 421.6 1471.5 422.1C1469.6 422.6 1467.7 423.2 1465.8 423.8C1463.9 424.3 1462.0 425.0 1460.1 425.6C1458.3 426.3 1456.4 427.0 1454.6 427.8C1452.7 428.5 1450.9 429.3 1449.0 430.1C1447.2 430.9 1445.4 431.7 1443.6 432.6C1441.8 433.5 1440.0 434.4 1438.2 435.3C1436.4 436.3 1434.7 437.2 1432.9 438.2C1431.1 439.2 1429.4 440.2 1427.7 441.2C1425.9 442.2 1424.2 443.2 1422.5 444.3C1420.8 445.3 1419.0 446.4 1417.3 447.5C1415.6 448.5 1413.9 449.6 1412.2 450.7C1410.5 451.7 1408.8 452.8 1407.1 453.8C1405.4 454.9 1403.6 455.9 1401.9 457.0C1400.2 458.0 1398.5 459.0 1396.7 460.0C1395.0 461.0 1393.2 462.0 1391.5 462.9C1389.7 463.9 1388.0 464.9 1386.2 465.8C1384.5 466.7 1382.7 467.7 1380.9 468.6C1379.2 469.5 1377.4 470.5 1375.6 471.4C1373.9 472.3 1372.1 473.2 1370.3 474.1C1368.5 475.0 1366.7 475.9 1365.0 476.9C1363.2 477.8 1361.4 478.7 1359.6 479.6C1357.8 480.5 1356.0 481.4 1354.2 482.3C1352.5 483.2 1350.7 484.1 1348.9 485.0C1347.1 486.0 1345.3 486.9 1343.5 487.8C1341.8 488.7 1340.0 489.7 1338.2 490.6C1336.4 491.5 1334.6 492.4 1332.8 493.4C1331.0 494.3 1329.3 495.2 1327.5 496.1C1325.7 497.0 1323.9 498.0 1322.1 498.9C1320.3 499.8 1318.5 500.7 1316.7 501.6C1314.9 502.5 1313.1 503.4 1311.3 504.3C1309.5 505.2 1307.7 506.1 1305.9 506.9C1304.1 507.8 1302.3 508.7 1300.5 509.6C1298.7 510.4 1296.9 511.3 1295.0 512.1C1293.2 513.0 1291.4 513.8 1289.6 514.6C1287.7 515.4 1285.9 516.2 1284.1 517.0C1282.2 517.8 1280.4 518.6 1278.6 519.4C1276.7 520.2 1274.9 520.9 1273.0 521.6C1271.1 522.4 1269.3 523.1 1267.4 523.8C1265.6 524.5 1263.7 525.2 1261.8 525.9C1259.9 526.6 1258.0 527.2 1256.2 527.9C1254.3 528.5 1252.4 529.1 1250.5 529.7C1248.6 530.4 1246.7 530.9 1244.8 531.5C1242.8 532.1 1240.9 532.7 1239.0 533.2C1237.1 533.8 1235.2 534.4 1233.3 534.9C1231.3 535.4 1229.4 536.0 1227.5 536.5C1225.5 537.0 1223.6 537.5 1221.7 538.0C1219.7 538.5 1217.8 539.0 1215.8 539.5C1213.9 539.9 1212.0 540.4 1210.0 540.9C1208.1 541.4 1206.1 541.8 1204.2 542.3C1202.2 542.7 1200.3 543.2 1198.3 543.6C1196.3 544.1 1194.4 544.5 1192.4 545.0C1190.5 545.4 1188.5 545.9 1186.5 546.3C1184.6 546.8 1182.6 547.2 1180.7 547.6C1178.7 548.1 1176.7 548.5 1174.8 549.0C1172.8 549.4 1170.9 549.8 1168.9 550.3C1166.9 550.7 1165.0 551.2 1163.0 551.6C1161.1 552.1 1159.1 552.5 1157.2 553.0C1155.2 553.5 1153.2 553.9 1151.3 554.4C1149.3 554.9 1147.4 555.3 1145.4 555.8C1143.5 556.3 1141.5 556.8 1139.6 557.3C1137.6 557.8 1135.7 558.3 1133.7 558.8C1131.8 559.3 1129.9 559.9 1127.9 560.4C1126.0 560.9 1124.1 561.5 1122.1 562.0C1120.2 562.6 1118.3 563.1 1116.4 563.7C1114.4 564.3 1112.5 564.8 1110.6 565.4C1108.7 566.0 1106.7 566.6 1104.8 567.2C1102.9 567.7 1101.0 568.3 1099.1 568.9C1097.1 569.5 1095.2 570.1 1093.3 570.7C1091.4 571.3 1089.5 571.9 1087.5 572.5C1085.6 573.1 1083.7 573.6 1081.8 574.2C1079.9 574.8 1078.0 575.4 1076.0 576.0C1074.1 576.6 1072.2 577.1 1070.3 577.7C1068.4 578.3 1066.4 578.8 1064.5 579.4C1062.6 579.9 1060.7 580.5 1058.7 581.0C1056.8 581.6 1054.9 582.1 1052.9 582.6C1051.0 583.1 1049.1 583.6 1047.1 584.1C1045.2 584.6 1043.3 585.1 1041.3 585.6C1039.4 586.1 1037.4 586.5 1035.5 586.9C1033.5 587.4 1031.6 587.8 1029.6 588.2C1027.7 588.6 1025.7 589.0 1023.7 589.4C1021.8 589.8 1019.8 590.2 1017.8 590.5C1015.8 590.9 1013.9 591.2 1011.9 591.5C1009.9 591.9 1007.9 592.2 1005.9 592.5C1004.0 592.8 1002.0 593.1 1000.0 593.4C998.0 593.7 996.0 594.0 994.0 594.3C992.0 594.5 990.1 594.8 988.1 595.1C986.1 595.3 984.1 595.6 982.1 595.9C980.1 596.1 978.1 596.4 976.1 596.7C974.1 596.9 972.1 597.2 970.2 597.4C968.2 597.7 966.2 598.0 964.2 598.2C962.2 598.5 960.2 598.8 958.2 599.0C956.2 599.3 954.3 599.6 952.3 599.8C950.3 600.1 948.3 600.4 946.3 600.7C944.3 600.9 942.4 601.2 940.4 601.5C938.4 601.8 936.4 602.1 934.4 602.4C932.5 602.6 930.5 602.9 928.5 603.2C926.5 603.5 924.5 603.8 922.6 604.1C920.6 604.4 918.6 604.7 916.6 605.0C914.7 605.3 912.7 605.6 910.7 605.9C908.7 606.2 906.7 606.5 904.8 606.8C902.8 607.1 900.8 607.5 898.8 607.8C896.9 608.1 894.9 608.4 892.9 608.7C890.9 609.0 888.9 609.4 887.0 609.7C885.0 610.0 883.0 610.3 881.0 610.7C879.0 611.0 877.1 611.3 875.1 611.7C873.1 612.0 871.1 612.3 869.1 612.7C867.1 613.0 865.2 613.3 863.2 613.7C861.2 614.0 859.2 614.4 857.2 614.7C855.2 615.1 853.2 615.4 851.3 615.8C849.3 616.1 847.3 616.5 845.3 616.8C843.3 617.2 841.3 617.5 839.3 617.9C837.4 618.3 835.4 618.6 833.4 619.0C831.4 619.3 829.4 619.7 827.4 620.1C825.4 620.4 823.5 620.8 821.5 621.2C819.5 621.5 817.5 621.9 815.5 622.3C813.6 622.6 811.6 623.0 809.6 623.4C807.6 623.8 805.6 624.1 803.7 624.5C801.7 624.9 799.7 625.3 797.7 625.7C795.8 626.0 793.8 626.4 791.8 626.8C789.8 627.2 787.9 627.6 785.9 628.0C783.9 628.3 782.0 628.7 780.0 629.1C778.0 629.5 776.1 629.9 774.1 630.3C772.1 630.7 770.2 631.1 768.2 631.5C766.2 631.9 764.3 632.3 762.3 632.7C760.4 633.1 758.4 633.5 756.5 633.9C754.5 634.3 752.6 634.8 750.6 635.2C748.7 635.6 746.7 636.0 744.8 636.5C742.8 636.9 740.9 637.3 738.9 637.8C737.0 638.2 735.1 638.7 733.1 639.1C731.2 639.6 729.2 640.1 727.3 640.6C725.4 641.0 723.4 641.5 721.5 642.0C719.6 642.5 717.7 643.0 715.7 643.5C713.8 644.0 711.9 644.5 710.0 645.0C708.1 645.6 706.1 646.1 704.2 646.6C702.3 647.2 700.4 647.7 698.5 648.3C696.6 648.9 694.7 649.4 692.8 650.0C690.9 650.6 689.0 651.2 687.1 651.8C685.2 652.4 683.3 653.0 681.4 653.7C679.5 654.3 677.6 654.9 675.7 655.6C673.8 656.3 671.9 656.9 670.0 657.6C668.2 658.3 666.3 659.0 664.4 659.7C662.5 660.4 660.7 661.1 658.8 661.9C656.9 662.6 655.1 663.3 653.2 664.1C651.3 664.9 649.5 665.7 647.6 666.4C645.8 667.2 643.9 668.0 642.1 668.9C640.3 669.7 638.4 670.5 636.6 671.4C634.8 672.2 633.0 673.1 631.1 673.9C629.3 674.8 627.5 675.7 625.7 676.6C623.9 677.5 622.1 678.4 620.3 679.4C618.6 680.3 616.8 681.3 615.0 682.2C613.2 683.2 611.5 684.2 609.7 685.2C608.0 686.1 606.2 687.2 604.5 688.2C602.8 689.2 601.0 690.2 599.3 691.3C597.6 692.3 595.9 693.4 594.2 694.5C592.5 695.6 590.8 696.7 589.2 697.8C587.5 698.9 585.8 700.0 584.2 701.2C582.5 702.3 580.9 703.5 579.3 704.7C577.7 705.8 576.0 707.0 574.4 708.2C572.8 709.4 571.2 710.7 569.7 711.9C568.1 713.1 566.5 714.4 565.0 715.7C563.4 716.9 561.9 718.2 560.4 719.5C558.9 720.8 557.4 722.2 555.9 723.5C554.4 724.8 552.9 726.2 551.4 727.6C550.0 728.9 548.5 730.3 547.1 731.7C545.7 733.1 544.3 734.5 542.9 736.0C541.5 737.4 540.1 738.9 538.7 740.3C537.4 741.8 536.0 743.3 534.7 744.8C533.3 746.3 532.0 747.8 530.7 749.3C529.4 750.8 528.2 752.4 526.9 753.9C525.6 755.5 524.4 757.0 523.2 758.6C521.9 760.2 520.7 761.8 519.6 763.4C518.4 765.0 517.2 766.7 516.0 768.3C514.9 769.9 513.8 771.6 512.7 773.2C511.5 774.9 510.5 776.6 509.4 778.3C508.3 780.0 507.3 781.7 506.2 783.4C505.2 785.1 504.2 786.8 503.2 788.6C502.2 790.3 501.2 792.0 500.3 793.8C499.3 795.6 498.4 797.3 497.5 799.1C496.6 800.9 495.7 802.7 494.9 804.5C494.0 806.3 493.2 808.1 492.4 809.9C491.5 811.8 490.7 813.6 490.0 815.4C489.2 817.3 488.5 819.1 487.7 821.0C487.0 822.9 486.3 824.7 485.6 826.6C485.0 828.5 484.3 830.4 483.7 832.3C483.0 834.2 482.4 836.1 481.9 838.0C481.3 839.9 480.7 841.9 480.2 843.8C479.7 845.7 479.2 847.7 478.7 849.6C478.2 851.6 477.7 853.5 477.3 855.5C476.9 857.4 476.5 859.4 476.1 861.4C475.7 863.4 475.4 865.3 475.1 867.3C474.7 869.3 474.4 871.3 474.2 873.3C473.9 875.3 473.7 877.3 473.5 879.4C473.2 881.4 473.1 883.4 472.9 885.4C472.7 887.4 472.6 889.5 472.5 891.5C473.7 889.9 474.9 888.3 476.1 886.7C477.3 885.2 478.6 883.6 479.8 882.0C481.1 880.5 482.3 878.9 483.6 877.4C484.8 875.9 486.1 874.4 487.4 872.8C488.7 871.3 490.0 869.8 491.3 868.3C492.6 866.8 493.9 865.3 495.2 863.8C496.6 862.4 497.9 860.9 499.2 859.4C500.6 857.9 501.9 856.5 503.3 855.0C504.6 853.5 506.0 852.1 507.3 850.6C508.7 849.1 510.1 847.7 511.4 846.2C512.8 844.7 514.2 843.3 515.6 841.8C517.0 840.4 518.3 838.9 519.7 837.4C521.1 836.0 522.5 834.5 523.9 833.0C525.3 831.5 526.7 830.1 528.1 828.6C529.5 827.1 530.9 825.7 532.3 824.2C533.7 822.8 535.1 821.3 536.5 819.8C537.9 818.4 539.4 816.9 540.8 815.5C542.2 814.0 543.6 812.6 545.1 811.2C546.5 809.7 548.0 808.3 549.4 806.9C550.9 805.5 552.4 804.1 553.8 802.7C555.3 801.3 556.8 799.9 558.3 798.6C559.8 797.2 561.3 795.9 562.8 794.5C564.3 793.2 565.8 791.9 567.4 790.5C568.9 789.2 570.4 787.9 572.0 786.7C573.5 785.4 575.1 784.1 576.7 782.9C578.3 781.7 579.9 780.5 581.5 779.3C583.1 778.1 584.7 776.9 586.3 775.7C587.9 774.6 589.6 773.4 591.2 772.3C592.9 771.2 594.6 770.2 596.2 769.1C597.9 768.0 599.6 767.0 601.3 766.0C603.0 765.0 604.8 764.0 606.5 763.0C608.2 762.0 610.0 761.1 611.7 760.1C613.5 759.2 615.3 758.3 617.0 757.4C618.8 756.5 620.6 755.7 622.4 754.8C624.2 754.0 626.0 753.2 627.8 752.4C629.6 751.6 631.5 750.8 633.3 750.0C635.2 749.2 637.0 748.5 638.9 747.8C640.7 747.0 642.6 746.3 644.5 745.7C646.3 745.0 648.2 744.3 650.1 743.7C652.0 743.0 653.9 742.4 655.8 741.8C657.7 741.1 659.6 740.6 661.5 740.0C663.5 739.4 665.4 738.8 667.3 738.3C669.3 737.8 671.2 737.2 673.1 736.7C675.1 736.2 677.0 735.7 679.0 735.3C681.0 734.8 682.9 734.3 684.9 733.9C686.9 733.4 688.8 733.0 690.8 732.6C692.8 732.2 694.8 731.8 696.7 731.4C698.7 731.1 700.7 730.7 702.7 730.3C704.7 730.0 706.7 729.7 708.7 729.3C710.7 729.0 712.7 728.7 714.7 728.4C716.7 728.1 718.7 727.9 720.7 727.6C722.7 727.3 724.7 727.1 726.7 726.9C728.7 726.6 730.7 726.4 732.7 726.2C734.7 726.0 736.8 725.8 738.8 725.6C740.8 725.4 742.8 725.2 744.8 725.1C746.8 724.9 748.8 724.8 750.8 724.6C752.8 724.5 754.8 724.3 756.8 724.2C758.9 724.1 760.9 723.9 762.9 723.8C764.9 723.7 766.9 723.6 768.9 723.5C770.9 723.3 772.9 723.2 774.9 723.1C776.9 723.0 778.9 722.8 780.9 722.7C782.9 722.6 784.8 722.4 786.8 722.3C788.8 722.1 790.8 722.0 792.8 721.8C794.8 721.6 796.7 721.5 798.7 721.3C800.7 721.1 802.7 720.9 804.6 720.6C806.6 720.4 808.6 720.2 810.5 719.9C812.5 719.7 814.4 719.4 816.4 719.1C818.3 718.8 820.3 718.5 822.2 718.2C824.1 717.8 826.1 717.5 828.0 717.1C829.9 716.7 831.9 716.3 833.8 715.8C835.7 715.4 837.6 714.9 839.5 714.4C841.4 714.0 843.3 713.4 845.2 712.9C847.1 712.4 849.0 711.8 850.9 711.2C852.8 710.6 854.7 710.0 856.5 709.4C858.4 708.8 860.3 708.1 862.1 707.5C864.0 706.8 865.9 706.1 867.7 705.4C869.6 704.7 871.5 704.0 873.3 703.3C875.2 702.6 877.0 701.8 878.9 701.1C880.7 700.3 882.6 699.5 884.4 698.7C886.3 698.0 888.1 697.2 889.9 696.4C891.8 695.6 893.6 694.7 895.5 693.9C897.3 693.1 899.1 692.3 901.0 691.4C902.8 690.6 904.6 689.7 906.5 688.9C908.3 688.0 910.1 687.2 912.0 686.3C913.8 685.4 915.6 684.6 917.4 683.7C919.3 682.8 921.1 682.0 922.9 681.1C924.7 680.2 926.6 679.3 928.4 678.5C930.2 677.6 932.1 676.7 933.9 675.8C935.7 675.0 937.5 674.1 939.4 673.2C941.2 672.4 943.0 671.5 944.9 670.6C946.7 669.8 948.5 668.9 950.4 668.1C952.2 667.2 954.0 666.4 955.9 665.6C957.7 664.7 959.5 663.9 961.4 663.1C963.2 662.2 965.1 661.4 966.9 660.6C968.7 659.8 970.6 659.0 972.4 658.1C974.3 657.3 976.1 656.5 977.9 655.7C979.8 654.9 981.6 654.1 983.5 653.3C985.3 652.5 987.2 651.7 989.0 651.0C990.9 650.2 992.7 649.4 994.6 648.6C996.4 647.8 998.3 647.0 1000.1 646.3C1002.0 645.5 1003.8 644.7 1005.7 644.0C1007.6 643.2 1009.4 642.4 1011.3 641.7C1013.1 640.9 1015.0 640.2 1016.8 639.4C1018.7 638.7 1020.6 637.9 1022.4 637.2C1024.3 636.4 1026.1 635.7 1028.0 634.9C1029.9 634.2 1031.7 633.4 1033.6 632.7C1035.4 632.0 1037.3 631.2 1039.2 630.5C1041.0 629.8 1042.9 629.1 1044.8 628.3C1046.6 627.6 1048.5 626.9 1050.4 626.2C1052.2 625.5 1054.1 624.7 1056.0 624.0C1057.8 623.3 1059.7 622.6 1061.6 621.9C1063.5 621.2 1065.3 620.5 1067.2 619.8C1069.1 619.1 1070.9 618.3 1072.8 617.6C1074.7 616.9 1076.6 616.2 1078.4 615.5C1080.3 614.8 1082.2 614.2 1084.1 613.5C1085.9 612.8 1087.8 612.1 1089.7 611.4C1091.6 610.7 1093.5 610.0 1095.3 609.3C1097.2 608.6 1099.1 607.9 1101.0 607.2C1102.8 606.6 1104.7 605.9 1106.6 605.2C1108.5 604.5 1110.4 603.8 1112.2 603.1C1114.1 602.5 1116.0 601.8 1117.9 601.1C1119.8 600.4 1121.7 599.7 1123.5 599.1C1125.4 598.4 1127.3 597.7 1129.2 597.0C1131.1 596.4 1133.0 595.7 1134.8 595.0C1136.7 594.3 1138.6 593.7 1140.5 593.0C1142.4 592.3 1144.3 591.6 1146.2 591.0C1148.0 590.3 1149.9 589.6 1151.8 588.9C1153.7 588.3 1155.6 587.6 1157.5 586.9C1159.4 586.3 1161.2 585.6 1163.1 584.9C1165.0 584.2 1166.9 583.6 1168.8 582.9C1170.7 582.2 1172.6 581.5 1174.5 580.9C1176.4 580.2 1178.2 579.5 1180.1 578.9C1182.0 578.2 1183.9 577.5 1185.8 576.9C1187.7 576.2 1189.6 575.5 1191.5 574.8C1193.4 574.2 1195.3 573.5 1197.2 572.8C1199.0 572.2 1200.9 571.5 1202.8 570.8C1204.7 570.2 1206.6 569.5 1208.5 568.8C1210.4 568.2 1212.3 567.5 1214.2 566.9C1216.1 566.2 1218.0 565.5 1219.9 564.9C1221.8 564.2 1223.7 563.5 1225.6 562.9C1227.5 562.2 1229.4 561.6 1231.3 560.9C1233.2 560.2 1235.0 559.6 1236.9 558.9C1238.8 558.3 1240.7 557.6 1242.6 556.9C1244.5 556.3 1246.4 555.6 1248.3 555.0C1250.2 554.3 1252.1 553.7 1254.0 553.0C1255.9 552.4 1257.8 551.7 1259.7 551.1C1261.6 550.4 1263.5 549.8 1265.4 549.1C1267.3 548.5 1269.2 547.8 1271.1 547.2C1273.1 546.5 1275.0 545.9 1276.9 545.2C1278.8 544.6 1280.7 543.9 1282.6 543.3C1284.5 542.7 1286.4 542.0 1288.3 541.4C1290.2 540.7 1292.1 540.1 1294.0 539.4C1295.9 538.8 1297.8 538.2 1299.7 537.5C1301.6 536.9 1303.5 536.2 1305.4 535.6C1307.3 534.9 1309.2 534.3 1311.1 533.6C1313.0 533.0 1314.9 532.3 1316.8 531.6C1318.7 531.0 1320.6 530.3 1322.5 529.6C1324.4 529.0 1326.3 528.3 1328.2 527.6C1330.0 526.9 1331.9 526.3 1333.8 525.6C1335.7 524.9 1337.6 524.2 1339.4 523.5C1341.3 522.8 1343.2 522.0 1345.0 521.3C1346.9 520.6 1348.8 519.9 1350.6 519.1C1352.5 518.4 1354.4 517.6 1356.2 516.9C1358.1 516.1 1359.9 515.4 1361.7 514.6C1363.6 513.8 1365.4 513.0 1367.3 512.2C1369.1 511.4 1370.9 510.6 1372.7 509.8C1374.6 509.0 1376.4 508.2 1378.2 507.3C1380.0 506.5 1381.8 505.7 1383.6 504.8C1385.5 504.0 1387.3 503.1 1389.1 502.2C1390.9 501.4 1392.7 500.5 1394.4 499.6C1396.2 498.7 1398.0 497.8 1399.8 496.9C1401.6 496.0 1403.4 495.1 1405.1 494.1C1406.9 493.2 1408.7 492.3 1410.5 491.3C1412.2 490.4 1414.0 489.4 1415.7 488.4C1417.5 487.5 1419.3 486.5 1421.0 485.5C1422.8 484.5 1424.5 483.5 1426.3 482.5C1428.0 481.5 1429.7 480.5 1431.5 479.4C1433.2 478.4 1434.9 477.4 1436.7 476.3C1438.4 475.3 1440.1 474.2 1441.9 473.2C1443.6 472.2 1445.3 471.1 1447.1 470.1C1448.8 469.0 1450.5 468.0 1452.3 467.0C1454.0 466.0 1455.7 464.9 1457.5 463.9C1459.2 463.0 1461.0 462.0 1462.8 461.0C1464.5 460.0 1466.3 459.1 1468.1 458.2C1469.8 457.2 1471.6 456.3 1473.4 455.5C1475.2 454.6 1477.0 453.8 1478.8 452.9C1480.7 452.1 1482.5 451.4 1484.3 450.6C1486.2 449.9 1488.0 449.2 1489.9 448.5C1491.8 447.8 1493.7 447.2 1495.5 446.6C1497.4 446.0 1499.3 445.4 1501.3 444.9C1503.2 444.3 1505.1 443.8 1507.0 443.4C1509.0 442.9 1510.9 442.5 1512.9 442.1C1514.8 441.7 1516.8 441.4 1518.7 441.0C1520.7 440.7 1522.7 440.4 1524.7 440.1C1526.6 439.8 1528.6 439.6 1530.6 439.4C1532.6 439.1 1534.6 438.9 1536.6 438.7C1538.6 438.6 1540.7 438.4 1542.7 438.2C1544.7 438.1 1546.7 438.0 1548.7 437.9C1550.7 437.7 1552.8 437.6 1554.8 437.6C1556.8 437.5 1558.8 437.4 1560.9 437.3C1562.9 437.3 1564.9 437.2 1567.0 437.2C1569.0 437.1 1571.0 437.1 1573.0 437.0C1575.1 437.0 1577.1 437.0 1579.1 436.9C1581.1 436.9 1583.2 436.8 1585.2 436.8C1587.2 436.8 1589.2 436.7 1591.2 436.7C1593.3 436.7 1595.3 436.6 1597.3 436.6C1599.3 436.5 1601.3 436.5 1603.3 436.5C1605.3 436.4 1607.3 436.4 1609.3 436.4C1611.3 436.3 1613.3 436.3 1615.3 436.2C1617.3 436.2 1619.3 436.2 1621.3 436.1C1623.3 436.1 1625.3 436.1 1627.3 436.0C1629.3 436.0 1631.3 435.9 1633.3 435.9C1635.3 435.9 1637.3 435.8 1639.3 435.8C1641.3 435.7 1643.3 435.7 1645.3 435.7C1647.3 435.6 1649.2 435.6 1651.2 435.5C1653.2 435.5 1655.2 435.5 1657.2 435.4C1659.2 435.4 1661.2 435.3 1663.2 435.3C1665.2 435.2 1667.2 435.2 1669.1 435.2C1671.1 435.1 1673.1 435.1 1675.1 435.0C1677.1 435.0 1679.1 434.9 1681.1 434.9C1683.1 434.9 1685.1 434.8 1687.1 434.8C1689.0 434.7 1691.0 434.7 1693.0 434.6C1695.0 434.6 1697.0 434.5 1699.0 434.5C1701.0 434.4 1703.0 434.4 1705.0 434.4C1707.0 434.3 1709.0 434.3 1711.0 434.2C1713.0 434.2 1715.0 434.1 1717.0 434.1C1719.0 434.0 1721.0 434.0 1723.0 433.9C1725.0 433.9 1727.0 433.8 1729.0 433.8C1731.0 433.7 1733.0 433.7 1735.0 433.6C1737.1 433.6 1739.1 433.5 1741.1 433.4C1743.1 433.4 1745.1 433.3 1747.1 433.3C1749.2 433.2 1751.2 433.2 1753.2 433.1C1755.2 433.1 1757.3 433.0 1759.3 432.9C1761.3 432.9 1763.4 432.8 1765.4 432.8C1767.4 432.7 1769.5 432.7 1771.5 432.6"/>
<path stroke="#006ae0" d="M1771.0 262.3C1769.0 262.1 1767.0 262.0 1765.1 261.8C1763.1 261.6 1761.1 261.4 1759.1 261.3C1757.1 261.1 1755.1 260.9 1753.1 260.8C1751.1 260.6 1749.2 260.4 1747.2 260.3C1745.2 260.1 1743.2 259.9 1741.2 259.8C1739.2 259.6 1737.2 259.5 1735.2 259.3C1733.2 259.1 1731.2 259.0 1729.2 258.8C1727.2 258.6 1725.2 258.5 1723.2 258.3C1721.2 258.1 1719.2 258.0 1717.3 257.8C1715.3 257.6 1713.3 257.5 1711.3 257.3C1709.3 257.1 1707.3 257.0 1705.3 256.8C1703.3 256.6 1701.3 256.4 1699.3 256.3C1697.3 256.1 1695.3 255.9 1693.3 255.8C1691.3 255.6 1689.3 255.4 1687.3 255.2C1685.3 255.1 1683.3 254.9 1681.3 254.7C1679.3 254.5 1677.3 254.3 1675.3 254.2C1673.3 254.0 1671.3 253.8 1669.3 253.6C1667.3 253.4 1665.3 253.2 1663.3 253.0C1661.3 252.8 1659.3 252.6 1657.3 252.4C1655.3 252.2 1653.3 252.0 1651.3 251.8C1649.3 251.6 1647.3 251.4 1645.3 251.2C1643.3 251.0 1641.3 250.8 1639.3 250.6C1637.3 250.4 1635.3 250.2 1633.3 250.0C1631.3 249.7 1629.3 249.5 1627.3 249.3C1625.3 249.1 1623.3 248.8 1621.3 248.6C1619.3 248.4 1617.3 248.1 1615.4 247.9C1613.4 247.6 1611.4 247.4 1609.4 247.2C1607.4 246.9 1605.4 246.7 1603.4 246.4C1601.4 246.1 1599.5 245.9 1597.5 245.6C1595.5 245.4 1593.5 245.1 1591.5 244.8C1589.5 244.5 1587.6 244.3 1585.6 244.0C1583.6 243.7 1581.6 243.4 1579.6 243.1C1577.7 242.8 1575.7 242.5 1573.7 242.2C1571.7 241.9 1569.8 241.6 1567.8 241.3C1565.8 241.0 1563.9 240.7 1561.9 240.3C1559.9 240.0 1558.0 239.7 1556.0 239.4C1554.0 239.0 1552.1 238.7 1550.1 238.3C1548.1 238.0 1546.2 237.6 1544.2 237.3C1542.3 236.9 1540.3 236.6 1538.4 236.2C1536.4 235.8 1534.5 235.4 1532.5 235.1C1530.6 234.7 1528.6 234.3 1526.7 233.9C1524.7 233.5 1522.7 233.1 1520.8 232.7C1518.8 232.3 1516.9 231.9 1514.9 231.5C1513.0 231.1 1511.0 230.7 1509.0 230.3C1507.1 229.9 1505.1 229.5 1503.1 229.1C1501.2 228.7 1499.2 228.3 1497.2 228.0C1495.2 227.6 1493.2 227.2 1491.2 226.8C1489.2 226.4 1487.2 226.0 1485.2 225.6C1483.2 225.3 1481.2 224.9 1479.2 224.5C1477.1 224.2 1475.1 223.8 1473.1 223.5C1471.1 223.3 1469.1 223.1 1467.0 223.0C1465.1 222.9 1463.1 222.9 1461.1 223.2C1459.2 223.4 1457.2 223.7 1455.4 224.3C1453.6 224.9 1451.9 225.8 1450.4 226.9C1448.9 228.0 1447.7 229.6 1446.5 231.1C1445.3 232.6 1444.3 234.3 1443.3 236.0C1442.3 237.6 1441.3 239.4 1440.5 241.2C1439.6 243.0 1438.7 244.8 1437.9 246.7C1437.1 248.5 1436.3 250.4 1435.5 252.3C1434.7 254.2 1433.9 256.1 1433.1 257.9C1432.3 259.8 1431.5 261.7 1430.7 263.5C1429.9 265.4 1429.0 267.2 1428.2 269.1C1427.3 270.9 1426.5 272.7 1425.6 274.5C1424.8 276.4 1423.9 278.2 1423.0 280.0C1422.1 281.8 1421.3 283.6 1420.4 285.4C1419.5 287.2 1418.6 289.0 1417.7 290.8C1416.8 292.6 1415.9 294.4 1415.0 296.1C1414.1 297.9 1413.2 299.7 1412.3 301.5C1411.4 303.3 1410.4 305.0 1409.5 306.8C1408.6 308.6 1407.7 310.3 1406.8 312.1C1405.9 313.9 1404.9 315.6 1404.0 317.4C1403.1 319.2 1402.2 321.0 1401.3 322.7C1400.3 324.5 1399.4 326.3 1398.5 328.0C1397.6 329.8 1396.7 331.6 1395.8 333.3C1394.9 335.1 1393.9 336.9 1393.0 338.7C1392.1 340.4 1391.2 342.2 1390.3 344.0C1389.5 345.8 1388.6 347.6 1387.7 349.4C1386.8 351.2 1385.9 353.0 1385.0 354.8C1384.2 356.6 1383.3 358.4 1382.5 360.2C1381.6 362.0 1380.8 363.9 1379.9 365.7C1379.1 367.5 1378.2 369.3 1377.4 371.2C1376.6 373.0 1375.8 374.9 1374.9 376.7C1374.1 378.5 1373.3 380.4 1372.4 382.2C1371.6 384.0 1370.7 385.9 1369.8 387.7C1368.9 389.5 1368.1 391.3 1367.1 393.1C1366.2 394.8 1365.3 396.6 1364.3 398.4C1363.3 400.1 1362.3 401.8 1361.3 403.5C1360.3 405.2 1359.2 406.9 1358.2 408.6C1357.1 410.3 1356.0 412.0 1354.9 413.6C1353.8 415.3 1352.7 416.9 1351.5 418.6C1350.4 420.2 1349.3 421.8 1348.1 423.5C1347.0 425.1 1345.8 426.7 1344.6 428.3C1343.5 430.0 1342.3 431.6 1341.1 433.2C1340.0 434.8 1338.8 436.5 1337.6 438.1C1336.5 439.7 1335.3 441.4 1334.1 443.0C1332.9 444.6 1331.8 446.2 1330.6 447.9C1329.4 449.5 1328.2 451.1 1327.0 452.7C1325.8 454.3 1324.7 456.0 1323.5 457.6C1322.3 459.2 1321.1 460.8 1319.8 462.4C1318.6 464.0 1317.4 465.6 1316.2 467.2C1315.0 468.7 1313.7 470.3 1312.5 471.9C1311.2 473.5 1310.0 475.0 1308.7 476.6C1307.5 478.2 1306.2 479.7 1304.9 481.2C1303.6 482.8 1302.4 484.3 1301.1 485.8C1299.8 487.4 1298.4 488.9 1297.1 490.4C1295.8 491.9 1294.5 493.3 1293.1 494.8C1291.8 496.3 1290.4 497.8 1289.0 499.2C1287.7 500.7 1286.3 502.1 1284.9 503.5C1283.5 504.9 1282.1 506.3 1280.6 507.7C1279.2 509.1 1277.7 510.5 1276.3 511.8C1274.8 513.2 1273.3 514.5 1271.8 515.9C1270.3 517.2 1268.8 518.5 1267.3 519.8C1265.8 521.1 1264.2 522.3 1262.6 523.6C1261.1 524.8 1259.5 526.1 1257.9 527.3C1256.3 528.5 1254.7 529.7 1253.1 530.9C1251.4 532.1 1249.8 533.2 1248.1 534.3C1246.5 535.5 1244.8 536.6 1243.1 537.7C1241.4 538.8 1239.8 539.9 1238.0 541.0C1236.3 542.0 1234.6 543.1 1232.9 544.1C1231.2 545.1 1229.4 546.2 1227.7 547.1C1225.9 548.1 1224.2 549.1 1222.4 550.1C1220.6 551.0 1218.8 551.9 1217.1 552.9C1215.3 553.8 1213.5 554.7 1211.7 555.6C1209.9 556.4 1208.1 557.3 1206.2 558.1C1204.4 559.0 1202.6 559.8 1200.8 560.6C1198.9 561.4 1197.1 562.2 1195.3 562.9C1193.4 563.7 1191.6 564.4 1189.7 565.2C1187.9 565.9 1186.0 566.6 1184.1 567.3C1182.3 568.0 1180.4 568.7 1178.5 569.3C1176.7 570.0 1174.8 570.7 1172.9 571.3C1171.0 571.9 1169.1 572.5 1167.2 573.2C1165.3 573.8 1163.4 574.4 1161.5 574.9C1159.6 575.5 1157.7 576.1 1155.8 576.6C1153.9 577.2 1152.0 577.8 1150.1 578.3C1148.1 578.8 1146.2 579.4 1144.3 579.9C1142.4 580.4 1140.4 580.9 1138.5 581.4C1136.6 581.9 1134.6 582.4 1132.7 582.8C1130.8 583.3 1128.8 583.8 1126.9 584.3C1124.9 584.7 1123.0 585.2 1121.0 585.6C1119.1 586.1 1117.1 586.5 1115.2 587.0C1113.2 587.4 1111.3 587.9 1109.3 588.3C1107.4 588.7 1105.4 589.1 1103.5 589.6C1101.5 590.0 1099.5 590.4 1097.6 590.8C1095.6 591.2 1093.6 591.6 1091.7 592.1C1089.7 592.5 1087.8 592.9 1085.8 593.3C1083.8 593.7 1081.9 594.1 1079.9 594.5C1077.9 594.9 1076.0 595.3 1074.0 595.8C1072.0 596.2 1070.1 596.6 1068.1 597.0C1066.1 597.4 1064.2 597.8 1062.2 598.2C1060.2 598.7 1058.3 599.1 1056.3 599.5C1054.3 599.9 1052.4 600.3 1050.4 600.8C1048.4 601.2 1046.5 601.7 1044.5 602.1C1042.6 602.5 1040.6 603.0 1038.7 603.4C1036.7 603.9 1034.7 604.4 1032.8 604.8C1030.8 605.3 1028.9 605.8 1026.9 606.3C1025.0 606.7 1023.0 607.2 1021.1 607.7C1019.1 608.2 1017.2 608.7 1015.3 609.2C1013.3 609.8 1011.4 610.3 1009.4 610.8C1007.5 611.3 1005.6 611.9 1003.6 612.4C1001.7 613.0 999.8 613.5 997.9 614.1C995.9 614.6 994.0 615.2 992.1 615.8C990.2 616.4 988.3 617.0 986.3 617.5C984.4 618.1 982.5 618.7 980.6 619.4C978.7 620.0 976.8 620.6 974.9 621.2C973.0 621.8 971.1 622.5 969.2 623.1C967.3 623.7 965.4 624.4 963.5 625.1C961.6 625.7 959.7 626.4 957.8 627.1C956.0 627.7 954.1 628.4 952.2 629.1C950.3 629.8 948.4 630.5 946.6 631.2C944.7 631.9 942.8 632.6 941.0 633.4C939.1 634.1 937.2 634.8 935.4 635.6C933.5 636.3 931.7 637.0 929.8 637.8C928.0 638.6 926.1 639.3 924.3 640.1C922.5 640.9 920.6 641.7 918.8 642.5C916.9 643.2 915.1 644.0 913.3 644.8C911.4 645.6 909.6 646.4 907.8 647.2C906.0 648.0 904.1 648.8 902.3 649.6C900.5 650.4 898.6 651.2 896.8 652.1C895.0 652.9 893.2 653.7 891.3 654.5C889.5 655.3 887.7 656.1 885.8 656.9C884.0 657.6 882.2 658.4 880.3 659.2C878.5 660.0 876.6 660.8 874.8 661.5C873.0 662.3 871.1 663.1 869.3 663.8C867.4 664.6 865.5 665.3 863.7 666.1C861.8 666.8 860.0 667.5 858.1 668.2C856.2 668.9 854.3 669.6 852.5 670.3C850.6 671.0 848.7 671.7 846.8 672.4C844.9 673.0 843.0 673.7 841.1 674.4C839.2 675.0 837.3 675.7 835.4 676.3C833.5 677.0 831.6 677.6 829.7 678.3C827.8 678.9 825.9 679.6 824.0 680.2C822.1 680.9 820.2 681.5 818.3 682.2C816.4 682.8 814.5 683.5 812.6 684.1C810.7 684.8 808.8 685.4 806.9 686.1C805.0 686.8 803.1 687.4 801.3 688.1C799.4 688.8 797.5 689.5 795.6 690.2C793.7 690.9 791.8 691.6 790.0 692.3C788.1 693.0 786.2 693.8 784.4 694.5C782.5 695.2 780.6 696.0 778.8 696.8C776.9 697.5 775.1 698.3 773.3 699.1C771.4 699.9 769.6 700.7 767.7 701.5C765.9 702.4 764.1 703.2 762.3 704.0C760.5 704.9 758.6 705.7 756.8 706.6C755.0 707.5 753.2 708.3 751.4 709.2C749.6 710.1 747.8 711.0 746.1 711.9C744.3 712.8 742.5 713.8 740.7 714.7C739.0 715.6 737.2 716.6 735.5 717.6C733.7 718.5 731.9 719.5 730.2 720.5C728.5 721.5 726.7 722.4 725.0 723.5C723.3 724.5 721.5 725.5 719.8 726.5C718.1 727.5 716.4 728.6 714.7 729.6C713.0 730.7 711.3 731.7 709.6 732.8C707.9 733.9 706.2 735.0 704.6 736.1C702.9 737.2 701.2 738.3 699.6 739.4C697.9 740.5 696.3 741.6 694.6 742.8C693.0 743.9 691.3 745.1 689.7 746.2C688.1 747.4 686.5 748.6 684.8 749.7C683.2 750.9 681.6 752.1 680.0 753.3C678.4 754.5 676.8 755.7 675.3 757.0C673.7 758.2 672.1 759.4 670.6 760.7C669.0 761.9 667.4 763.2 665.9 764.4C664.3 765.7 662.8 767.0 661.3 768.2C659.7 769.5 658.2 770.8 656.7 772.1C655.2 773.4 653.7 774.8 652.2 776.1C650.7 777.4 649.2 778.7 647.7 780.1C646.3 781.4 644.8 782.8 643.3 784.1C641.9 785.5 640.4 786.9 639.0 788.3C637.5 789.7 636.1 791.0 634.7 792.4C633.3 793.9 631.9 795.3 630.5 796.7C629.1 798.1 627.7 799.5 626.3 801.0C624.9 802.4 623.5 803.9 622.2 805.3C620.8 806.8 619.4 808.2 618.1 809.7C616.8 811.2 615.4 812.7 614.1 814.2C612.8 815.7 611.5 817.2 610.2 818.7C608.9 820.2 607.6 821.7 606.3 823.3C605.0 824.8 603.7 826.3 602.5 827.9C601.2 829.4 600.0 831.0 598.7 832.5C597.5 834.1 596.2 835.7 595.0 837.3C593.8 838.8 592.6 840.4 591.4 842.0C590.2 843.6 589.0 845.2 587.8 846.9C586.7 848.5 585.5 850.1 584.3 851.7C583.2 853.4 582.1 855.0 580.9 856.7C579.8 858.3 578.7 860.0 577.6 861.6C576.5 863.3 575.4 865.0 574.3 866.6C573.2 868.3 572.1 870.0 571.1 871.7C570.0 873.4 569.0 875.1 567.9 876.8C566.9 878.5 565.9 880.2 564.8 882.0C563.8 883.7 562.8 885.4 561.8 887.2C560.8 888.9 559.9 890.7 558.9 892.4C557.9 894.2 557.0 895.9 556.0 897.7C555.1 899.5 554.1 901.2 553.2 903.0C552.3 904.8 551.3 906.6 550.4 908.4C549.5 910.2 548.6 911.9 547.7 913.7C546.8 915.5 545.9 917.3 545.0 919.2C544.1 921.0 543.3 922.8 542.4 924.6C541.5 926.4 540.7 928.2 539.8 930.0C539.0 931.9 538.1 933.7 537.3 935.5C536.4 937.4 535.6 939.2 534.8 941.0C533.9 942.9 533.1 944.7 532.3 946.5C531.5 948.4 530.6 950.2 529.8 952.1C529.0 953.9 528.2 955.8 527.4 957.6C526.6 959.5 525.8 961.3 525.0 963.2C524.2 965.0 523.4 966.9 522.6 968.7C521.8 970.6 521.0 972.4 520.2 974.3C519.5 976.1 518.7 978.0 517.9 979.8C517.1 981.7 516.3 983.5 515.5 985.4C514.7 987.3 514.0 989.1 513.2 991.0C512.4 992.8 511.6 994.7 510.8 996.5C510.1 998.4 509.3 1000.2 508.5 1002.1C507.7 1003.9 507.0 1005.8 506.2 1007.6C505.4 1009.5 504.7 1011.3 503.9 1013.2C503.2 1015.0 502.4 1016.9 501.7 1018.7C500.9 1020.6 500.2 1022.4 499.5 1024.3C498.7 1026.2 498.0 1028.0 497.3 1029.9C496.6 1031.7 495.9 1033.6 495.2 1035.5C494.5 1037.3 493.8 1039.2 493.1 1041.1C492.4 1042.9 491.8 1044.8 491.1 1046.7C490.4 1048.6 489.8 1050.4 489.2 1052.3C488.5 1054.2 487.9 1056.1 487.3 1058.0C486.7 1059.9 486.1 1061.8 485.5 1063.7C485.0 1065.6 484.4 1067.5 483.8 1069.4C483.3 1071.3 482.8 1073.2 482.3 1075.1C481.7 1077.0 481.2 1078.9 480.8 1080.9C480.3 1082.8 479.8 1084.7 479.4 1086.7C478.9 1088.6 478.5 1090.5 478.1 1092.5C477.7 1094.4 477.3 1096.4 477.0 1098.4C476.6 1100.3 476.3 1102.3 476.0 1104.3C475.6 1106.3 475.3 1108.2 475.1 1110.2C474.8 1112.2 474.6 1114.2 474.3 1116.2C474.1 1118.2 473.9 1120.2 473.7 1122.3C473.6 1124.3 473.4 1126.3 473.3 1128.4C473.2 1130.4 473.1 1132.5 473.0 1134.5C473.9 1132.7 474.9 1131.0 475.8 1129.2C476.8 1127.5 477.7 1125.7 478.7 1124.0C479.6 1122.2 480.6 1120.5 481.6 1118.7C482.5 1117.0 483.5 1115.2 484.5 1113.5C485.4 1111.7 486.4 1110.0 487.4 1108.2C488.4 1106.5 489.4 1104.7 490.4 1103.0C491.4 1101.2 492.4 1099.5 493.4 1097.8C494.4 1096.0 495.4 1094.3 496.5 1092.6C497.5 1090.8 498.5 1089.1 499.6 1087.4C500.6 1085.7 501.7 1083.9 502.7 1082.2C503.8 1080.5 504.9 1078.8 505.9 1077.1C507.0 1075.4 508.1 1073.7 509.2 1072.1C510.3 1070.4 511.4 1068.7 512.6 1067.0C513.7 1065.4 514.8 1063.7 516.0 1062.1C517.1 1060.4 518.3 1058.8 519.4 1057.1C520.6 1055.5 521.8 1053.9 523.0 1052.3C524.2 1050.7 525.4 1049.1 526.6 1047.5C527.8 1045.9 529.1 1044.3 530.3 1042.7C531.6 1041.2 532.8 1039.6 534.1 1038.1C535.4 1036.5 536.7 1035.0 538.0 1033.5C539.3 1032.0 540.6 1030.5 542.0 1029.0C543.3 1027.5 544.7 1026.0 546.1 1024.6C547.4 1023.1 548.8 1021.7 550.2 1020.2C551.6 1018.8 553.1 1017.4 554.5 1016.0C556.0 1014.6 557.4 1013.3 558.9 1012.0C560.4 1010.6 561.9 1009.3 563.4 1008.0C565.0 1006.8 566.5 1005.5 568.1 1004.3C569.7 1003.1 571.3 1001.9 572.9 1000.8C574.6 999.6 576.2 998.5 577.9 997.5C579.6 996.5 581.3 995.4 583.0 994.5C584.8 993.5 586.6 992.6 588.4 991.8C590.2 990.9 592.0 990.1 593.9 989.4C595.7 988.6 597.6 987.9 599.5 987.3C601.4 986.7 603.4 986.1 605.3 985.5C607.2 985.0 609.2 984.5 611.2 984.1C613.1 983.7 615.1 983.3 617.1 983.0C619.1 982.7 621.1 982.4 623.1 982.2C625.1 982.0 627.1 981.8 629.1 981.7C631.1 981.6 633.1 981.6 635.1 981.6C637.1 981.6 639.0 981.6 641.0 981.7C643.0 981.8 645.0 982.0 647.0 982.2C648.9 982.4 650.9 982.6 652.9 982.9C654.8 983.2 656.8 983.5 658.8 983.9C660.7 984.2 662.7 984.6 664.6 985.1C666.6 985.5 668.6 986.0 670.5 986.5C672.5 987.0 674.4 987.5 676.4 988.1C678.4 988.7 680.3 989.3 682.3 989.9C684.2 990.5 686.2 991.1 688.2 991.8C690.1 992.5 692.1 993.1 694.1 993.8C696.0 994.5 698.0 995.3 700.0 996.0C701.9 996.7 703.9 997.5 705.9 998.2C707.9 999.0 709.9 999.7 711.8 1000.4C713.8 1001.1 715.8 1001.8 717.8 1002.5C719.7 1003.1 721.7 1003.7 723.7 1004.1C725.7 1004.6 727.6 1005.1 729.6 1005.4C731.5 1005.7 733.5 1005.9 735.4 1006.0C737.3 1006.0 739.3 1006.0 741.2 1005.9C743.1 1005.7 745.0 1005.5 746.9 1005.1C748.8 1004.8 750.6 1004.3 752.5 1003.8C754.4 1003.3 756.2 1002.7 758.0 1002.0C759.9 1001.3 761.7 1000.5 763.5 999.7C765.3 998.9 767.1 998.0 768.9 997.0C770.6 996.1 772.4 995.1 774.1 994.1C775.9 993.0 777.6 991.9 779.3 990.8C781.0 989.7 782.7 988.6 784.3 987.4C786.0 986.2 787.7 985.0 789.3 983.8C790.9 982.6 792.5 981.4 794.1 980.1C795.7 978.9 797.3 977.6 798.8 976.3C800.4 975.1 801.9 973.8 803.4 972.5C805.0 971.2 806.5 969.8 807.9 968.5C809.4 967.2 810.9 965.8 812.3 964.5C813.8 963.1 815.2 961.7 816.7 960.3C818.1 958.9 819.5 957.5 820.9 956.1C822.3 954.7 823.7 953.2 825.0 951.8C826.4 950.4 827.7 948.9 829.1 947.4C830.4 946.0 831.7 944.5 833.1 943.0C834.4 941.5 835.7 940.0 837.0 938.5C838.3 937.0 839.5 935.4 840.8 933.9C842.1 932.4 843.3 930.8 844.6 929.3C845.8 927.7 847.1 926.2 848.3 924.6C849.5 923.0 850.7 921.4 851.9 919.9C853.2 918.3 854.4 916.7 855.5 915.1C856.7 913.5 857.9 911.8 859.1 910.2C860.3 908.6 861.5 907.0 862.6 905.4C863.8 903.7 864.9 902.1 866.1 900.5C867.2 898.8 868.4 897.2 869.5 895.5C870.7 893.9 871.8 892.2 872.9 890.5C874.1 888.9 875.2 887.2 876.3 885.5C877.4 883.9 878.5 882.2 879.7 880.5C880.8 878.8 881.9 877.1 883.0 875.5C884.1 873.8 885.2 872.1 886.3 870.4C887.4 868.7 888.5 867.0 889.6 865.3C890.7 863.6 891.8 862.0 892.9 860.3C894.0 858.6 895.1 856.9 896.2 855.2C897.3 853.5 898.4 851.8 899.5 850.1C900.6 848.4 901.7 846.7 902.8 845.0C903.9 843.3 905.0 841.6 906.2 839.9C907.3 838.2 908.4 836.5 909.5 834.9C910.6 833.2 911.7 831.5 912.8 829.8C914.0 828.1 915.1 826.4 916.2 824.8C917.3 823.1 918.5 821.4 919.6 819.7C920.8 818.1 921.9 816.4 923.0 814.8C924.2 813.1 925.4 811.4 926.5 809.8C927.7 808.1 928.8 806.5 930.0 804.9C931.2 803.2 932.4 801.6 933.6 800.0C934.8 798.3 936.0 796.7 937.2 795.1C938.4 793.5 939.6 791.9 940.8 790.3C942.0 788.7 943.3 787.1 944.5 785.5C945.8 783.9 947.0 782.3 948.3 780.8C949.5 779.2 950.8 777.6 952.1 776.1C953.4 774.5 954.7 773.0 955.9 771.5C957.2 769.9 958.6 768.4 959.9 766.9C961.2 765.4 962.5 763.9 963.8 762.4C965.2 760.9 966.5 759.4 967.9 757.9C969.2 756.5 970.6 755.0 972.0 753.5C973.3 752.1 974.7 750.6 976.1 749.2C977.5 747.8 978.9 746.3 980.3 744.9C981.7 743.5 983.1 742.1 984.6 740.7C986.0 739.4 987.5 738.0 988.9 736.6C990.4 735.3 991.8 733.9 993.3 732.6C994.8 731.2 996.2 729.9 997.7 728.6C999.2 727.3 1000.7 726.0 1002.2 724.7C1003.8 723.4 1005.3 722.1 1006.8 720.9C1008.3 719.6 1009.9 718.4 1011.4 717.1C1013.0 715.9 1014.6 714.7 1016.1 713.5C1017.7 712.3 1019.3 711.1 1020.9 709.9C1022.5 708.7 1024.1 707.6 1025.7 706.4C1027.3 705.3 1028.9 704.1 1030.6 703.0C1032.2 701.9 1033.8 700.7 1035.5 699.6C1037.1 698.5 1038.8 697.4 1040.4 696.3C1042.1 695.2 1043.8 694.2 1045.5 693.1C1047.1 692.0 1048.8 690.9 1050.5 689.9C1052.2 688.8 1053.9 687.8 1055.6 686.7C1057.3 685.7 1059.0 684.7 1060.7 683.6C1062.4 682.6 1064.1 681.6 1065.9 680.6C1067.6 679.6 1069.3 678.6 1071.0 677.6C1072.8 676.6 1074.5 675.6 1076.3 674.6C1078.0 673.6 1079.7 672.6 1081.5 671.6C1083.2 670.6 1085.0 669.6 1086.7 668.7C1088.5 667.7 1090.3 666.7 1092.0 665.7C1093.8 664.8 1095.5 663.8 1097.3 662.8C1099.1 661.9 1100.8 660.9 1102.6 659.9C1104.4 659.0 1106.1 658.0 1107.9 657.0C1109.7 656.1 1111.5 655.1 1113.2 654.1C1115.0 653.2 1116.8 652.2 1118.5 651.2C1120.3 650.3 1122.1 649.3 1123.9 648.3C1125.6 647.4 1127.4 646.4 1129.2 645.4C1130.9 644.4 1132.7 643.5 1134.5 642.5C1136.2 641.5 1138.0 640.5 1139.8 639.5C1141.5 638.5 1143.3 637.5 1145.1 636.6C1146.8 635.6 1148.6 634.6 1150.3 633.6C1152.1 632.6 1153.8 631.6 1155.6 630.5C1157.3 629.5 1159.1 628.5 1160.8 627.5C1162.6 626.5 1164.3 625.5 1166.1 624.4C1167.8 623.4 1169.5 622.4 1171.3 621.3C1173.0 620.3 1174.7 619.3 1176.5 618.2C1178.2 617.2 1179.9 616.1 1181.6 615.0C1183.3 614.0 1185.0 612.9 1186.7 611.8C1188.4 610.8 1190.1 609.7 1191.8 608.6C1193.5 607.5 1195.2 606.4 1196.9 605.3C1198.6 604.2 1200.3 603.1 1202.0 602.0C1203.6 600.9 1205.3 599.8 1207.0 598.7C1208.6 597.5 1210.3 596.4 1211.9 595.3C1213.6 594.1 1215.2 593.0 1216.9 591.8C1218.5 590.7 1220.1 589.5 1221.7 588.3C1223.4 587.2 1225.0 586.0 1226.6 584.8C1228.2 583.6 1229.8 582.4 1231.4 581.2C1233.0 580.0 1234.6 578.8 1236.1 577.5C1237.7 576.3 1239.3 575.1 1240.9 573.8C1242.4 572.6 1244.0 571.3 1245.5 570.1C1247.0 568.8 1248.6 567.5 1250.1 566.2C1251.6 565.0 1253.1 563.7 1254.7 562.4C1256.2 561.0 1257.7 559.7 1259.1 558.4C1260.6 557.1 1262.1 555.7 1263.6 554.4C1265.0 553.0 1266.5 551.7 1267.9 550.3C1269.4 548.9 1270.8 547.6 1272.2 546.2C1273.7 544.8 1275.1 543.4 1276.5 541.9C1277.9 540.5 1279.3 539.1 1280.7 537.6C1282.0 536.2 1283.4 534.7 1284.8 533.3C1286.1 531.8 1287.5 530.3 1288.8 528.8C1290.1 527.3 1291.4 525.8 1292.8 524.3C1294.1 522.8 1295.4 521.2 1296.6 519.7C1297.9 518.2 1299.2 516.6 1300.5 515.0C1301.7 513.5 1303.0 511.9 1304.2 510.3C1305.5 508.7 1306.7 507.1 1307.9 505.5C1309.2 503.9 1310.4 502.3 1311.6 500.7C1312.8 499.1 1314.0 497.5 1315.2 495.8C1316.4 494.2 1317.6 492.6 1318.8 490.9C1320.0 489.3 1321.2 487.7 1322.4 486.0C1323.6 484.4 1324.7 482.7 1325.9 481.1C1327.1 479.5 1328.3 477.8 1329.4 476.2C1330.6 474.5 1331.8 472.9 1332.9 471.2C1334.1 469.6 1335.3 468.0 1336.4 466.3C1337.6 464.7 1338.8 463.0 1340.0 461.4C1341.1 459.8 1342.3 458.2 1343.5 456.5C1344.6 454.9 1345.8 453.3 1347.0 451.7C1348.2 450.0 1349.3 448.4 1350.5 446.8C1351.7 445.2 1352.8 443.5 1354.0 441.9C1355.1 440.3 1356.3 438.7 1357.4 437.0C1358.6 435.4 1359.7 433.8 1360.9 432.1C1362.0 430.5 1363.1 428.8 1364.3 427.2C1365.4 425.5 1366.5 423.9 1367.6 422.2C1368.7 420.5 1369.8 418.9 1370.9 417.2C1372.0 415.5 1373.1 413.8 1374.2 412.1C1375.2 410.4 1376.3 408.7 1377.3 407.0C1378.4 405.2 1379.4 403.5 1380.4 401.8C1381.5 400.1 1382.5 398.3 1383.5 396.6C1384.5 394.8 1385.5 393.1 1386.4 391.3C1387.4 389.6 1388.4 387.8 1389.3 386.1C1390.3 384.3 1391.2 382.5 1392.1 380.8C1393.1 379.0 1394.0 377.2 1394.9 375.5C1395.8 373.7 1396.6 371.9 1397.5 370.1C1398.4 368.3 1399.3 366.5 1400.2 364.8C1401.1 363.0 1402.0 361.2 1402.9 359.4C1403.8 357.6 1404.7 355.8 1405.6 354.0C1406.5 352.2 1407.4 350.5 1408.4 348.7C1409.3 346.9 1410.3 345.1 1411.3 343.3C1412.3 341.5 1413.3 339.8 1414.3 338.0C1415.3 336.2 1416.4 334.5 1417.4 332.8C1418.5 331.0 1419.6 329.3 1420.8 327.6C1421.9 325.9 1423.1 324.3 1424.2 322.6C1425.4 321.0 1426.7 319.4 1427.9 317.8C1429.2 316.3 1430.5 314.8 1431.8 313.3C1433.1 311.8 1434.5 310.3 1435.9 309.0C1437.3 307.6 1438.8 306.2 1440.2 304.9C1441.7 303.6 1443.3 302.4 1444.8 301.2C1446.4 300.1 1448.0 299.0 1449.7 297.9C1451.4 296.8 1453.1 295.9 1454.8 294.9C1456.6 294.0 1458.3 293.1 1460.1 292.2C1461.9 291.4 1463.8 290.6 1465.6 289.9C1467.5 289.1 1469.4 288.4 1471.3 287.8C1473.2 287.1 1475.2 286.5 1477.1 285.9C1479.1 285.3 1481.0 284.8 1483.0 284.3C1485.0 283.8 1486.9 283.3 1488.9 282.8C1490.9 282.4 1492.9 281.9 1494.9 281.5C1496.9 281.1 1498.9 280.8 1500.9 280.4C1502.9 280.1 1504.9 279.7 1506.9 279.4C1508.9 279.1 1510.8 278.8 1512.8 278.5C1514.8 278.3 1516.8 278.0 1518.8 277.7C1520.8 277.5 1522.7 277.3 1524.7 277.0C1526.7 276.8 1528.7 276.6 1530.7 276.4C1532.7 276.2 1534.7 276.0 1536.6 275.9C1538.6 275.7 1540.6 275.5 1542.6 275.4C1544.6 275.2 1546.6 275.1 1548.6 274.9C1550.6 274.8 1552.6 274.6 1554.6 274.5C1556.6 274.3 1558.6 274.2 1560.6 274.1C1562.6 273.9 1564.6 273.8 1566.6 273.7C1568.6 273.6 1570.6 273.5 1572.6 273.4C1574.6 273.2 1576.6 273.1 1578.6 273.0C1580.6 272.9 1582.6 272.8 1584.6 272.7C1586.6 272.6 1588.6 272.5 1590.6 272.4C1592.6 272.3 1594.7 272.2 1596.7 272.1C1598.7 272.0 1600.7 272.0 1602.7 271.9C1604.7 271.8 1606.7 271.7 1608.7 271.6C1610.7 271.5 1612.7 271.4 1614.7 271.3C1616.8 271.2 1618.8 271.2 1620.8 271.1C1622.8 271.0 1624.8 270.9 1626.8 270.8C1628.8 270.7 1630.8 270.6 1632.8 270.5C1634.8 270.4 1636.8 270.4 1638.8 270.3C1640.8 270.2 1642.8 270.1 1644.8 270.0C1646.9 269.9 1648.9 269.8 1650.9 269.7C1652.9 269.6 1654.9 269.5 1656.9 269.4C1658.9 269.3 1660.9 269.3 1662.9 269.2C1664.9 269.1 1666.9 269.0 1668.9 268.9C1670.9 268.8 1672.9 268.7 1674.9 268.6C1676.9 268.5 1678.9 268.4 1680.9 268.3C1682.9 268.2 1684.9 268.1 1686.9 268.0C1688.9 267.8 1690.9 267.7 1692.9 267.6C1694.9 267.5 1696.9 267.4 1698.9 267.3C1700.9 267.2 1702.9 267.1 1704.9 267.0C1706.9 266.8 1708.9 266.7 1710.9 266.6C1712.9 266.5 1714.9 266.4 1716.9 266.2C1718.9 266.1 1720.9 266.0 1722.9 265.9C1724.9 265.7 1726.9 265.6 1728.9 265.5C1731.0 265.3 1733.0 265.2 1735.0 265.1C1737.0 264.9 1739.0 264.8 1741.0 264.6C1743.0 264.5 1745.0 264.4 1747.0 264.2C1749.0 264.1 1751.0 263.9 1753.0 263.8C1755.0 263.6 1757.0 263.5 1759.0 263.3C1761.0 263.1 1763.0 263.0 1765.0 262.8C1767.0 262.6 1769.0 262.5 1771.0 262.3"/>
<path stroke="#00aa63" d="M1771.5 446.0C1769.4 446.0 1767.4 445.9 1765.3 445.9C1763.3 445.8 1761.2 445.8 1759.2 445.7C1757.1 445.7 1755.1 445.6 1753.0 445.6C1751.0 445.5 1749.0 445.5 1746.9 445.4C1744.9 445.3 1742.9 445.3 1740.8 445.2C1738.8 445.2 1736.8 445.1 1734.8 445.0C1732.8 444.9 1730.7 444.9 1728.7 444.8C1726.7 444.7 1724.7 444.6 1722.7 444.5C1720.7 444.5 1718.7 444.4 1716.7 444.3C1714.7 444.2 1712.7 444.1 1710.7 444.0C1708.7 443.9 1706.7 443.8 1704.7 443.7C1702.7 443.6 1700.7 443.5 1698.7 443.4C1696.7 443.3 1694.7 443.2 1692.7 443.1C1690.7 443.0 1688.7 442.9 1686.8 442.7C1684.8 442.6 1682.8 442.5 1680.8 442.4C1678.8 442.3 1676.8 442.1 1674.9 442.0C1672.9 441.9 1670.9 441.8 1668.9 441.6C1666.9 441.5 1664.9 441.4 1663.0 441.2C1661.0 441.1 1659.0 440.9 1657.0 440.8C1655.1 440.7 1653.1 440.5 1651.1 440.4C1649.1 440.2 1647.1 440.1 1645.2 439.9C1643.2 439.8 1641.2 439.6 1639.2 439.4C1637.3 439.3 1635.3 439.1 1633.3 439.0C1631.3 438.8 1629.3 438.6 1627.4 438.5C1625.4 438.3 1623.4 438.1 1621.4 437.9C1619.4 437.8 1617.4 437.6 1615.5 437.4C1613.5 437.2 1611.5 437.0 1609.5 436.9C1607.5 436.7 1605.5 436.5 1603.5 436.3C1601.5 436.1 1599.6 435.9 1597.6 435.7C1595.6 435.5 1593.6 435.3 1591.6 435.1C1589.6 434.9 1587.6 434.7 1585.6 434.5C1583.6 434.3 1581.6 434.1 1579.6 433.9C1577.6 433.7 1575.6 433.5 1573.5 433.2C1571.5 433.0 1569.5 432.8 1567.5 432.6C1565.5 432.4 1563.5 432.1 1561.4 431.9C1559.4 431.7 1557.4 431.5 1555.4 431.2C1553.3 431.0 1551.3 430.8 1549.3 430.5C1547.2 430.3 1545.2 430.1 1543.2 429.8C1541.1 429.6 1539.1 429.4 1537.1 429.2C1535.0 428.9 1533.0 428.7 1530.9 428.5C1528.9 428.3 1526.9 428.1 1524.8 428.0C1522.8 427.8 1520.8 427.7 1518.7 427.5C1516.7 427.4 1514.7 427.3 1512.7 427.2C1510.6 427.1 1508.6 427.1 1506.6 427.1C1504.6 427.0 1502.6 427.0 1500.6 427.1C1498.6 427.1 1496.6 427.2 1494.6 427.3C1492.7 427.4 1490.7 427.6 1488.7 427.8C1486.8 427.9 1484.8 428.2 1482.9 428.5C1481.0 428.7 1479.0 429.1 1477.1 429.5C1475.2 429.8 1473.3 430.3 1471.4 430.7C1469.5 431.2 1467.6 431.7 1465.8 432.3C1463.9 432.9 1462.0 433.5 1460.2 434.1C1458.3 434.8 1456.5 435.4 1454.7 436.2C1452.8 436.9 1451.0 437.6 1449.2 438.4C1447.4 439.2 1445.6 440.0 1443.8 440.9C1442.0 441.7 1440.2 442.6 1438.4 443.5C1436.6 444.4 1434.8 445.3 1433.1 446.3C1431.3 447.2 1429.5 448.2 1427.8 449.2C1426.0 450.1 1424.2 451.2 1422.5 452.2C1420.7 453.2 1419.0 454.2 1417.2 455.3C1415.5 456.3 1413.7 457.4 1412.0 458.4C1410.3 459.5 1408.5 460.6 1406.8 461.7C1405.1 462.7 1403.3 463.8 1401.6 464.9C1399.8 466.0 1398.1 467.1 1396.4 468.2C1394.6 469.2 1392.9 470.3 1391.2 471.4C1389.4 472.5 1387.7 473.5 1386.0 474.6C1384.2 475.7 1382.5 476.7 1380.8 477.8C1379.0 478.8 1377.3 479.8 1375.5 480.9C1373.8 481.9 1372.1 482.9 1370.3 484.0C1368.6 485.0 1366.8 486.0 1365.1 487.0C1363.3 488.0 1361.6 489.0 1359.8 490.0C1358.1 491.0 1356.3 492.0 1354.6 492.9C1352.8 493.9 1351.1 494.9 1349.3 495.8C1347.5 496.8 1345.8 497.8 1344.0 498.7C1342.3 499.7 1340.5 500.6 1338.7 501.5C1337.0 502.5 1335.2 503.4 1333.4 504.3C1331.6 505.2 1329.9 506.1 1328.1 507.0C1326.3 507.9 1324.5 508.8 1322.7 509.7C1321.0 510.6 1319.2 511.4 1317.4 512.3C1315.6 513.2 1313.8 514.0 1312.0 514.9C1310.2 515.7 1308.4 516.6 1306.6 517.4C1304.8 518.2 1303.0 519.1 1301.2 519.9C1299.4 520.7 1297.6 521.5 1295.7 522.3C1293.9 523.1 1292.1 523.9 1290.3 524.7C1288.4 525.5 1286.6 526.2 1284.8 527.0C1283.0 527.8 1281.1 528.5 1279.3 529.3C1277.4 530.0 1275.6 530.8 1273.7 531.5C1271.9 532.2 1270.0 533.0 1268.2 533.7C1266.3 534.4 1264.4 535.1 1262.6 535.8C1260.7 536.5 1258.8 537.2 1257.0 537.8C1255.1 538.5 1253.2 539.2 1251.3 539.8C1249.4 540.5 1247.5 541.1 1245.6 541.8C1243.7 542.4 1241.8 543.0 1239.9 543.7C1238.0 544.3 1236.1 544.9 1234.2 545.5C1232.3 546.1 1230.3 546.7 1228.4 547.3C1226.5 547.8 1224.6 548.4 1222.6 549.0C1220.7 549.5 1218.7 550.1 1216.8 550.7C1214.8 551.2 1212.9 551.7 1210.9 552.3C1209.0 552.8 1207.0 553.4 1205.1 553.9C1203.1 554.4 1201.2 554.9 1199.2 555.5C1197.2 556.0 1195.3 556.5 1193.3 557.0C1191.3 557.5 1189.4 558.0 1187.4 558.5C1185.5 559.1 1183.5 559.6 1181.5 560.1C1179.6 560.6 1177.6 561.1 1175.6 561.6C1173.7 562.1 1171.7 562.6 1169.8 563.2C1167.8 563.7 1165.9 564.2 1163.9 564.7C1161.9 565.2 1160.0 565.7 1158.0 566.3C1156.1 566.8 1154.2 567.3 1152.2 567.9C1150.3 568.4 1148.3 568.9 1146.4 569.5C1144.5 570.0 1142.5 570.5 1140.6 571.0C1138.6 571.6 1136.7 572.1 1134.8 572.6C1132.8 573.1 1130.9 573.6 1129.0 574.2C1127.0 574.7 1125.1 575.2 1123.2 575.7C1121.2 576.2 1119.3 576.6 1117.3 577.1C1115.4 577.6 1113.5 578.1 1111.5 578.5C1109.6 579.0 1107.6 579.4 1105.7 579.9C1103.7 580.3 1101.8 580.7 1099.8 581.1C1097.9 581.6 1095.9 582.0 1093.9 582.4C1092.0 582.8 1090.0 583.2 1088.1 583.5C1086.1 583.9 1084.1 584.3 1082.2 584.7C1080.2 585.0 1078.3 585.4 1076.3 585.8C1074.3 586.1 1072.3 586.4 1070.4 586.8C1068.4 587.1 1066.4 587.5 1064.5 587.8C1062.5 588.1 1060.5 588.4 1058.5 588.7C1056.6 589.0 1054.6 589.3 1052.6 589.6C1050.6 589.9 1048.6 590.2 1046.7 590.5C1044.7 590.8 1042.7 591.1 1040.7 591.4C1038.7 591.7 1036.7 591.9 1034.8 592.2C1032.8 592.5 1030.8 592.7 1028.8 593.0C1026.8 593.3 1024.8 593.5 1022.8 593.8C1020.8 594.0 1018.8 594.3 1016.8 594.5C1014.9 594.8 1012.9 595.0 1010.9 595.3C1008.9 595.5 1006.9 595.8 1004.9 596.0C1002.9 596.2 1000.9 596.5 998.9 596.7C996.9 596.9 994.9 597.2 992.9 597.4C990.9 597.6 988.9 597.9 986.9 598.1C984.9 598.3 982.9 598.6 980.9 598.8C978.9 599.0 977.0 599.3 975.0 599.5C973.0 599.7 971.0 599.9 969.0 600.2C967.0 600.4 965.0 600.6 963.0 600.9C961.0 601.1 959.0 601.3 957.0 601.6C955.0 601.8 953.0 602.0 951.0 602.3C949.0 602.5 947.0 602.7 945.0 603.0C943.0 603.2 941.0 603.5 939.0 603.7C937.0 603.9 935.0 604.2 933.0 604.4C931.0 604.7 929.1 604.9 927.1 605.2C925.1 605.5 923.1 605.7 921.1 606.0C919.1 606.2 917.1 606.5 915.1 606.8C913.1 607.1 911.1 607.3 909.1 607.6C907.2 607.9 905.2 608.2 903.2 608.5C901.2 608.8 899.2 609.1 897.2 609.4C895.3 609.7 893.3 610.0 891.3 610.3C889.3 610.6 887.3 610.9 885.3 611.2C883.4 611.5 881.4 611.9 879.4 612.2C877.4 612.6 875.5 612.9 873.5 613.3C871.5 613.6 869.5 614.0 867.6 614.3C865.6 614.7 863.6 615.1 861.7 615.4C859.7 615.8 857.7 616.2 855.8 616.6C853.8 616.9 851.8 617.3 849.9 617.7C847.9 618.1 845.9 618.5 844.0 618.9C842.0 619.3 840.0 619.7 838.1 620.1C836.1 620.5 834.1 620.9 832.2 621.3C830.2 621.7 828.2 622.1 826.3 622.5C824.3 622.9 822.3 623.3 820.4 623.7C818.4 624.1 816.4 624.5 814.5 624.9C812.5 625.3 810.5 625.7 808.6 626.1C806.6 626.5 804.6 626.9 802.7 627.3C800.7 627.7 798.7 628.1 796.7 628.5C794.8 628.8 792.8 629.2 790.8 629.6C788.8 630.0 786.9 630.4 784.9 630.7C782.9 631.1 780.9 631.5 778.9 631.8C777.0 632.2 775.0 632.6 773.0 632.9C771.0 633.3 769.0 633.6 767.0 634.0C765.1 634.3 763.1 634.7 761.1 635.1C759.1 635.4 757.1 635.8 755.1 636.1C753.2 636.5 751.2 636.9 749.2 637.2C747.2 637.6 745.2 637.9 743.2 638.3C741.3 638.7 739.3 639.1 737.3 639.4C735.3 639.8 733.4 640.2 731.4 640.6C729.4 641.0 727.4 641.4 725.5 641.8C723.5 642.2 721.5 642.6 719.6 643.0C717.6 643.4 715.6 643.9 713.7 644.3C711.7 644.7 709.7 645.2 707.8 645.6C705.8 646.1 703.9 646.6 701.9 647.0C700.0 647.5 698.1 648.0 696.1 648.5C694.2 649.0 692.2 649.5 690.3 650.0C688.4 650.6 686.4 651.1 684.5 651.7C682.6 652.2 680.7 652.8 678.8 653.4C676.9 654.0 675.0 654.6 673.1 655.2C671.1 655.8 669.3 656.4 667.4 657.1C665.5 657.7 663.6 658.4 661.7 659.1C659.8 659.8 658.0 660.5 656.1 661.2C654.2 661.9 652.4 662.7 650.5 663.4C648.6 664.2 646.8 664.9 644.9 665.7C643.1 666.5 641.3 667.3 639.4 668.1C637.6 668.9 635.8 669.8 634.0 670.6C632.1 671.5 630.3 672.3 628.5 673.2C626.7 674.1 624.9 675.0 623.1 675.9C621.3 676.8 619.6 677.7 617.8 678.6C616.0 679.6 614.2 680.5 612.5 681.5C610.7 682.5 608.9 683.4 607.2 684.4C605.4 685.4 603.7 686.4 602.0 687.4C600.2 688.5 598.5 689.5 596.8 690.5C595.0 691.6 593.3 692.6 591.6 693.7C589.9 694.8 588.2 695.8 586.5 696.9C584.8 698.0 583.2 699.1 581.5 700.3C579.8 701.4 578.2 702.5 576.5 703.7C574.9 704.8 573.2 706.0 571.6 707.2C570.0 708.4 568.4 709.6 566.8 710.8C565.2 712.0 563.6 713.2 562.0 714.5C560.4 715.7 558.9 717.0 557.3 718.3C555.8 719.6 554.3 720.9 552.8 722.2C551.3 723.5 549.8 724.8 548.3 726.2C546.8 727.6 545.4 728.9 543.9 730.3C542.5 731.7 541.1 733.2 539.7 734.6C538.3 736.0 536.9 737.5 535.5 739.0C534.2 740.4 532.8 741.9 531.5 743.4C530.2 744.9 528.9 746.5 527.6 748.0C526.3 749.5 525.1 751.1 523.8 752.7C522.6 754.2 521.4 755.8 520.2 757.4C519.0 759.0 517.8 760.7 516.6 762.3C515.5 763.9 514.3 765.6 513.2 767.3C512.1 768.9 511.0 770.6 509.9 772.3C508.8 774.0 507.8 775.7 506.7 777.4C505.7 779.2 504.7 780.9 503.7 782.6C502.7 784.4 501.7 786.1 500.8 787.9C499.9 789.7 498.9 791.5 498.0 793.3C497.1 795.1 496.2 796.9 495.4 798.7C494.5 800.5 493.7 802.3 492.9 804.2C492.1 806.0 491.3 807.9 490.5 809.7C489.8 811.6 489.0 813.4 488.3 815.3C487.6 817.2 486.9 819.1 486.2 821.0C485.5 822.9 484.9 824.8 484.3 826.7C483.7 828.6 483.1 830.5 482.5 832.4C481.9 834.4 481.4 836.3 480.8 838.2C480.3 840.2 479.8 842.1 479.3 844.1C478.9 846.0 478.4 848.0 478.0 850.0C477.6 851.9 477.2 853.9 476.8 855.9C476.4 857.8 476.1 859.8 475.7 861.8C475.4 863.8 475.1 865.8 474.9 867.8C474.6 869.8 474.3 871.8 474.1 873.8C473.9 875.8 473.7 877.8 473.6 879.8C473.4 881.8 473.3 883.8 473.1 885.8C473.0 887.8 473.0 889.8 472.9 891.8C474.2 890.3 475.5 888.7 476.8 887.2C478.1 885.6 479.4 884.1 480.7 882.6C482.0 881.1 483.3 879.6 484.6 878.1C485.9 876.6 487.2 875.1 488.6 873.6C489.9 872.1 491.2 870.6 492.6 869.2C493.9 867.7 495.3 866.2 496.6 864.8C498.0 863.3 499.3 861.8 500.7 860.4C502.0 858.9 503.4 857.5 504.8 856.0C506.1 854.6 507.5 853.1 508.9 851.7C510.2 850.2 511.6 848.8 513.0 847.3C514.3 845.9 515.7 844.4 517.1 843.0C518.5 841.5 519.9 840.0 521.3 838.6C522.6 837.1 524.0 835.6 525.4 834.2C526.8 832.7 528.2 831.2 529.6 829.8C531.0 828.3 532.4 826.9 533.8 825.4C535.2 823.9 536.6 822.5 538.0 821.0C539.4 819.6 540.8 818.1 542.3 816.7C543.7 815.2 545.1 813.8 546.6 812.3C548.0 810.9 549.4 809.5 550.9 808.1C552.3 806.6 553.8 805.2 555.3 803.8C556.7 802.5 558.2 801.1 559.7 799.7C561.2 798.3 562.7 797.0 564.2 795.6C565.7 794.3 567.2 793.0 568.8 791.6C570.3 790.3 571.8 789.0 573.4 787.8C574.9 786.5 576.5 785.2 578.1 784.0C579.6 782.7 581.2 781.5 582.8 780.3C584.4 779.1 586.0 777.9 587.7 776.8C589.3 775.6 590.9 774.5 592.6 773.4C594.3 772.3 595.9 771.2 597.6 770.1C599.3 769.1 601.0 768.0 602.7 767.0C604.4 766.0 606.2 765.0 607.9 764.0C609.6 763.1 611.4 762.1 613.1 761.2C614.9 760.3 616.7 759.4 618.5 758.5C620.2 757.6 622.0 756.8 623.8 755.9C625.7 755.1 627.5 754.3 629.3 753.5C631.1 752.7 633.0 751.9 634.8 751.1C636.7 750.4 638.5 749.6 640.4 748.9C642.3 748.2 644.1 747.5 646.0 746.8C647.9 746.2 649.8 745.5 651.7 744.9C653.6 744.2 655.5 743.6 657.4 743.0C659.3 742.4 661.2 741.8 663.2 741.3C665.1 740.7 667.0 740.2 669.0 739.6C670.9 739.1 672.9 738.6 674.8 738.1C676.8 737.6 678.7 737.2 680.7 736.7C682.7 736.2 684.6 735.8 686.6 735.4C688.6 735.0 690.6 734.6 692.5 734.2C694.5 733.8 696.5 733.4 698.5 733.1C700.5 732.7 702.5 732.4 704.5 732.0C706.5 731.7 708.5 731.4 710.5 731.1C712.5 730.8 714.5 730.5 716.5 730.3C718.5 730.0 720.5 729.8 722.5 729.5C724.5 729.3 726.5 729.1 728.5 728.9C730.5 728.7 732.5 728.5 734.5 728.3C736.5 728.1 738.6 728.0 740.6 727.8C742.6 727.7 744.6 727.5 746.6 727.4C748.6 727.3 750.6 727.1 752.6 727.0C754.6 726.9 756.6 726.8 758.6 726.7C760.6 726.6 762.6 726.5 764.6 726.4C766.6 726.3 768.6 726.2 770.6 726.1C772.6 726.0 774.6 725.9 776.5 725.7C778.5 725.6 780.5 725.5 782.5 725.4C784.5 725.2 786.5 725.1 788.4 724.9C790.4 724.7 792.4 724.6 794.3 724.4C796.3 724.2 798.3 724.0 800.2 723.7C802.2 723.5 804.1 723.2 806.1 722.9C808.0 722.7 810.0 722.4 811.9 722.0C813.9 721.7 815.8 721.3 817.7 720.9C819.7 720.5 821.6 720.1 823.5 719.6C825.5 719.2 827.4 718.7 829.3 718.2C831.2 717.7 833.1 717.1 835.0 716.6C836.9 716.0 838.8 715.4 840.7 714.8C842.6 714.2 844.5 713.6 846.4 712.9C848.3 712.3 850.2 711.6 852.0 710.9C853.9 710.2 855.8 709.5 857.7 708.8C859.5 708.1 861.4 707.3 863.3 706.6C865.2 705.8 867.0 705.1 868.9 704.3C870.8 703.5 872.6 702.8 874.5 702.0C876.4 701.2 878.2 700.4 880.1 699.6C881.9 698.9 883.8 698.1 885.7 697.3C887.5 696.5 889.4 695.7 891.3 694.9C893.1 694.2 895.0 693.4 896.9 692.6C898.7 691.9 900.6 691.1 902.5 690.3C904.3 689.6 906.2 688.8 908.1 688.1C910.0 687.4 911.8 686.6 913.7 685.9C915.6 685.2 917.5 684.5 919.3 683.8C921.2 683.0 923.1 682.3 925.0 681.6C926.9 680.9 928.7 680.2 930.6 679.5C932.5 678.9 934.4 678.2 936.3 677.5C938.2 676.8 940.0 676.1 941.9 675.5C943.8 674.8 945.7 674.1 947.6 673.5C949.5 672.8 951.4 672.1 953.3 671.5C955.2 670.8 957.1 670.2 958.9 669.5C960.8 668.9 962.7 668.2 964.6 667.6C966.5 666.9 968.4 666.3 970.3 665.7C972.2 665.0 974.1 664.4 976.0 663.7C977.9 663.1 979.8 662.5 981.7 661.8C983.6 661.2 985.5 660.6 987.4 660.0C989.3 659.3 991.2 658.7 993.1 658.1C995.0 657.4 996.9 656.8 998.8 656.2C1000.7 655.6 1002.6 654.9 1004.5 654.3C1006.4 653.7 1008.3 653.1 1010.2 652.4C1012.1 651.8 1014.0 651.2 1015.9 650.6C1017.8 649.9 1019.7 649.3 1021.6 648.7C1023.5 648.1 1025.4 647.4 1027.3 646.8C1029.2 646.2 1031.1 645.6 1033.0 644.9C1034.9 644.3 1036.8 643.7 1038.7 643.1C1040.6 642.4 1042.6 641.8 1044.5 641.2C1046.4 640.6 1048.3 639.9 1050.2 639.3C1052.1 638.7 1054.0 638.1 1055.9 637.4C1057.8 636.8 1059.7 636.2 1061.6 635.6C1063.5 635.0 1065.4 634.3 1067.3 633.7C1069.2 633.1 1071.1 632.5 1073.1 631.8C1075.0 631.2 1076.9 630.6 1078.8 630.0C1080.7 629.3 1082.6 628.7 1084.5 628.1C1086.4 627.5 1088.3 626.8 1090.2 626.2C1092.1 625.6 1094.0 625.0 1095.9 624.3C1097.9 623.7 1099.8 623.1 1101.7 622.5C1103.6 621.8 1105.5 621.2 1107.4 620.6C1109.3 620.0 1111.2 619.3 1113.1 618.7C1115.0 618.1 1116.9 617.5 1118.8 616.8C1120.8 616.2 1122.7 615.6 1124.6 614.9C1126.5 614.3 1128.4 613.7 1130.3 613.1C1132.2 612.4 1134.1 611.8 1136.0 611.2C1137.9 610.6 1139.8 609.9 1141.7 609.3C1143.7 608.7 1145.6 608.0 1147.5 607.4C1149.4 606.8 1151.3 606.2 1153.2 605.5C1155.1 604.9 1157.0 604.3 1158.9 603.6C1160.8 603.0 1162.7 602.4 1164.6 601.7C1166.5 601.1 1168.5 600.5 1170.4 599.9C1172.3 599.2 1174.2 598.6 1176.1 598.0C1178.0 597.3 1179.9 596.7 1181.8 596.1C1183.7 595.4 1185.6 594.8 1187.5 594.2C1189.4 593.5 1191.3 592.9 1193.2 592.3C1195.1 591.6 1197.0 591.0 1199.0 590.3C1200.9 589.7 1202.8 589.1 1204.7 588.4C1206.6 587.8 1208.5 587.2 1210.4 586.5C1212.3 585.9 1214.2 585.3 1216.1 584.6C1218.0 584.0 1219.9 583.3 1221.8 582.7C1223.7 582.1 1225.6 581.4 1227.5 580.8C1229.4 580.1 1231.3 579.5 1233.2 578.8C1235.1 578.2 1237.0 577.6 1238.9 576.9C1240.8 576.3 1242.7 575.6 1244.6 575.0C1246.5 574.3 1248.4 573.7 1250.3 573.1C1252.2 572.4 1254.1 571.8 1256.0 571.1C1257.9 570.5 1259.8 569.8 1261.7 569.2C1263.6 568.5 1265.5 567.9 1267.4 567.2C1269.3 566.6 1271.2 565.9 1273.1 565.3C1275.0 564.6 1276.9 564.0 1278.8 563.3C1280.7 562.6 1282.6 562.0 1284.4 561.3C1286.3 560.7 1288.2 560.0 1290.1 559.4C1292.0 558.7 1293.9 558.0 1295.8 557.4C1297.7 556.7 1299.6 556.0 1301.4 555.3C1303.3 554.7 1305.2 554.0 1307.1 553.3C1309.0 552.6 1310.9 551.9 1312.7 551.3C1314.6 550.6 1316.5 549.9 1318.4 549.2C1320.2 548.5 1322.1 547.8 1324.0 547.1C1325.9 546.4 1327.7 545.6 1329.6 544.9C1331.5 544.2 1333.3 543.5 1335.2 542.8C1337.1 542.0 1338.9 541.3 1340.8 540.6C1342.6 539.8 1344.5 539.1 1346.3 538.3C1348.2 537.6 1350.0 536.8 1351.9 536.1C1353.7 535.3 1355.6 534.5 1357.4 533.8C1359.3 533.0 1361.1 532.2 1362.9 531.4C1364.8 530.6 1366.6 529.8 1368.4 529.0C1370.2 528.2 1372.1 527.4 1373.9 526.5C1375.7 525.7 1377.5 524.9 1379.4 524.1C1381.2 523.2 1383.0 522.4 1384.8 521.5C1386.6 520.6 1388.4 519.8 1390.2 518.9C1392.0 518.0 1393.8 517.1 1395.6 516.2C1397.4 515.3 1399.2 514.4 1400.9 513.5C1402.7 512.6 1404.5 511.7 1406.3 510.7C1408.1 509.8 1409.8 508.9 1411.6 507.9C1413.4 506.9 1415.1 506.0 1416.9 505.0C1418.6 504.0 1420.4 503.0 1422.1 502.0C1423.9 501.0 1425.6 500.0 1427.3 499.0C1429.1 497.9 1430.8 496.9 1432.5 495.8C1434.3 494.8 1436.0 493.7 1437.7 492.6C1439.4 491.6 1441.2 490.5 1442.9 489.4C1444.6 488.3 1446.3 487.3 1448.0 486.2C1449.7 485.1 1451.4 484.0 1453.2 483.0C1454.9 481.9 1456.6 480.8 1458.3 479.8C1460.0 478.8 1461.8 477.7 1463.5 476.7C1465.2 475.7 1467.0 474.7 1468.7 473.7C1470.5 472.7 1472.2 471.8 1474.0 470.8C1475.7 469.9 1477.5 469.0 1479.3 468.1C1481.0 467.2 1482.8 466.4 1484.6 465.6C1486.4 464.8 1488.2 464.0 1490.0 463.2C1491.9 462.5 1493.7 461.8 1495.6 461.1C1497.4 460.5 1499.3 459.9 1501.2 459.3C1503.0 458.7 1504.9 458.2 1506.8 457.7C1508.8 457.3 1510.7 456.8 1512.6 456.5C1514.6 456.1 1516.5 455.7 1518.5 455.4C1520.5 455.1 1522.5 454.9 1524.4 454.6C1526.4 454.4 1528.4 454.2 1530.4 454.0C1532.5 453.9 1534.5 453.7 1536.5 453.6C1538.5 453.5 1540.6 453.4 1542.6 453.3C1544.6 453.2 1546.7 453.2 1548.7 453.1C1550.8 453.1 1552.8 453.1 1554.9 453.0C1556.9 453.0 1559.0 453.0 1561.0 453.0C1563.1 453.0 1565.1 453.0 1567.2 453.0C1569.2 453.0 1571.3 453.0 1573.3 453.0C1575.4 453.0 1577.4 453.0 1579.4 453.0C1581.5 453.0 1583.5 453.0 1585.5 452.9C1587.6 452.9 1589.6 452.8 1591.6 452.8C1593.6 452.7 1595.6 452.7 1597.6 452.6C1599.6 452.6 1601.6 452.5 1603.6 452.4C1605.6 452.3 1607.6 452.2 1609.6 452.2C1611.6 452.1 1613.6 452.0 1615.5 451.9C1617.5 451.8 1619.5 451.7 1621.5 451.6C1623.5 451.5 1625.5 451.4 1627.4 451.2C1629.4 451.1 1631.4 451.0 1633.4 450.9C1635.3 450.8 1637.3 450.7 1639.3 450.5C1641.3 450.4 1643.2 450.3 1645.2 450.2C1647.2 450.1 1649.2 449.9 1651.1 449.8C1653.1 449.7 1655.1 449.6 1657.1 449.5C1659.1 449.4 1661.0 449.2 1663.0 449.1C1665.0 449.0 1667.0 448.9 1669.0 448.8C1671.0 448.7 1673.0 448.6 1675.0 448.5C1677.0 448.4 1679.0 448.3 1681.0 448.2C1683.0 448.1 1685.0 448.0 1687.0 447.9C1689.0 447.8 1691.0 447.8 1693.0 447.7C1695.0 447.6 1697.1 447.5 1699.1 447.4C1701.1 447.4 1703.1 447.3 1705.1 447.2C1707.1 447.2 1709.2 447.1 1711.2 447.0C1713.2 447.0 1715.2 446.9 1717.2 446.9C1719.2 446.8 1721.3 446.7 1723.3 446.7C1725.3 446.6 1727.3 446.6 1729.3 446.6C1731.4 446.5 1733.4 446.5 1735.4 446.4C1737.4 446.4 1739.4 446.4 1741.4 446.3C1743.4 446.3 1745.5 446.3 1747.5 446.2C1749.5 446.2 1751.5 446.2 1753.5 446.1C1755.5 446.1 1757.5 446.1 1759.5 446.1C1761.5 446.1 1763.5 446.0 1765.5 446.0C1767.5 446.0 1769.5 446.0 1771.5 446.0"/>
<path stroke="#767676" d="M389 43 H560"/>
<path stroke="#fc3c3c" d="M389 136.8 H560"/>
<path stroke="#006ae0" d="M389 230.6 H560"/>
<path stroke="#00aa63" d="M389 324.4 H560"/>
</g>
<g font-family="'Liberation Sans', sans-serif" font-size="77.4" fill="#000">
<text transform="translate(334.0 1245.0) scale(1 1.0185)" text-anchor="end">-0.0006</text>
<text transform="translate(334.0 1051.2) scale(1 1.0185)" text-anchor="end">-0.0004</text>
<text transform="translate(334.0 857.3) scale(1 1.0185)" text-anchor="end">-0.0002</text>
<text transform="translate(334.0 663.5) scale(1 1.0185)" text-anchor="end">0.0000</text>
<text transform="translate(334.0 469.7) scale(1 1.0185)" text-anchor="end">0.0002</text>
<text transform="translate(334.0 275.8) scale(1 1.0185)" text-anchor="end">0.0004</text>
<text transform="translate(334.0 82.0) scale(1 1.0185)" text-anchor="end">0.0006</text>
<text transform="translate(371.4 1320.0) scale(1 1.0185)" text-anchor="middle">-600</text>
<text transform="translate(571.4 1320.0) scale(1 1.0185)" text-anchor="middle">-400</text>
<text transform="translate(771.3 1320.0) scale(1 1.0185)" text-anchor="middle">-200</text>
<text transform="translate(972.2 1320.0) scale(1 1.0185)" text-anchor="middle">0</text>
<text transform="translate(1172.2 1320.0) scale(1 1.0185)" text-anchor="middle">200</text>
<text transform="translate(1372.2 1320.0) scale(1 1.0185)" text-anchor="middle">400</text>
<text transform="translate(1572.1 1320.0) scale(1 1.0185)" text-anchor="middle">600</text>
<text transform="translate(1772.1 1320.0) scale(1 1.0185)" text-anchor="middle">800</text>
<text transform="translate(580.3 69.8) scale(1 1.0185)" text-anchor="start">ZnO-PDA-light off</text>
<text transform="translate(580.3 163.8) scale(1 1.0185)" text-anchor="start">ZnO-PDA-BSA light off</text>
<text transform="translate(580.3 257.7) scale(1 1.0185)" text-anchor="start">ZnO-PDA-light on</text>
<text transform="translate(580.3 351.3) scale(1 1.0185)" text-anchor="start">ZnO-PDA-BSA-light on</text>
<text transform="translate(1098.5 1441.7) scale(1 1.0185)" text-anchor="middle">E vs Ag/AgCl, mV</text>
<text transform="translate(70.0 633.0) rotate(-90) scale(1 1.0185)" text-anchor="middle">I (A)</text>
</g>
</svg>
</body></html>
